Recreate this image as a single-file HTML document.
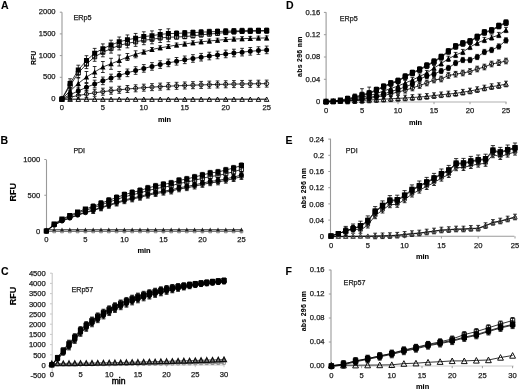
<!DOCTYPE html>
<html><head><meta charset="utf-8"><style>
html,body{margin:0;padding:0;background:#fff;width:520px;height:390px;overflow:hidden}
svg{display:block;filter:grayscale(1)}
text{font-family:"Liberation Sans",sans-serif}
</style></head><body>
<svg width="520" height="390" viewBox="0 0 520 390">
<rect width="520" height="390" fill="#fff"/>
<line x1="62" y1="12.2" x2="62" y2="99" stroke="#9a9a9a" stroke-width="1.1"/>
<line x1="59.8" y1="99" x2="62" y2="99" stroke="#9a9a9a" stroke-width="1"/>
<text x="55.6" y="100.9" font-size="7.6" text-anchor="end" fill="#1a1a1a" stroke="#1a1a1a" stroke-width="0.25">0</text>
<line x1="59.8" y1="77.3" x2="62" y2="77.3" stroke="#9a9a9a" stroke-width="1"/>
<text x="55.6" y="79.2" font-size="7.6" text-anchor="end" fill="#1a1a1a" stroke="#1a1a1a" stroke-width="0.25">500</text>
<line x1="59.8" y1="55.6" x2="62" y2="55.6" stroke="#9a9a9a" stroke-width="1"/>
<text x="55.6" y="57.5" font-size="7.6" text-anchor="end" fill="#1a1a1a" stroke="#1a1a1a" stroke-width="0.25">1000</text>
<line x1="59.8" y1="33.9" x2="62" y2="33.9" stroke="#9a9a9a" stroke-width="1"/>
<text x="55.6" y="35.8" font-size="7.6" text-anchor="end" fill="#1a1a1a" stroke="#1a1a1a" stroke-width="0.25">1500</text>
<line x1="59.8" y1="12.2" x2="62" y2="12.2" stroke="#9a9a9a" stroke-width="1"/>
<text x="55.6" y="14.1" font-size="7.6" text-anchor="end" fill="#1a1a1a" stroke="#1a1a1a" stroke-width="0.25">2000</text>
<line x1="62" y1="99" x2="266.7" y2="99" stroke="#9a9a9a" stroke-width="1.1"/>
<line x1="61.9" y1="99" x2="61.9" y2="101.2" stroke="#9a9a9a" stroke-width="1"/>
<text x="61.9" y="110.1" font-size="7.6" text-anchor="middle" fill="#1a1a1a" stroke="#1a1a1a" stroke-width="0.25">0</text>
<line x1="102.85" y1="99" x2="102.85" y2="101.2" stroke="#9a9a9a" stroke-width="1"/>
<text x="102.85" y="110.1" font-size="7.6" text-anchor="middle" fill="#1a1a1a" stroke="#1a1a1a" stroke-width="0.25">5</text>
<line x1="143.8" y1="99" x2="143.8" y2="101.2" stroke="#9a9a9a" stroke-width="1"/>
<text x="143.8" y="110.1" font-size="7.6" text-anchor="middle" fill="#1a1a1a" stroke="#1a1a1a" stroke-width="0.25">10</text>
<line x1="184.75" y1="99" x2="184.75" y2="101.2" stroke="#9a9a9a" stroke-width="1"/>
<text x="184.75" y="110.1" font-size="7.6" text-anchor="middle" fill="#1a1a1a" stroke="#1a1a1a" stroke-width="0.25">15</text>
<line x1="225.7" y1="99" x2="225.7" y2="101.2" stroke="#9a9a9a" stroke-width="1"/>
<text x="225.7" y="110.1" font-size="7.6" text-anchor="middle" fill="#1a1a1a" stroke="#1a1a1a" stroke-width="0.25">20</text>
<line x1="266.65" y1="99" x2="266.65" y2="101.2" stroke="#9a9a9a" stroke-width="1"/>
<text x="266.65" y="110.1" font-size="7.6" text-anchor="middle" fill="#1a1a1a" stroke="#1a1a1a" stroke-width="0.25">25</text>
<text x="1" y="9.3" font-size="10.5" font-weight="bold" text-anchor="start" fill="#000" stroke="#000" stroke-width="0.1">A</text>
<text x="35.7" y="57.8" font-size="6.9" font-weight="bold" text-anchor="middle" fill="#000" transform="rotate(-90 35.7 57.8)" stroke="#000" stroke-width="0.1">RFU</text>
<text x="164.5" y="122.4" font-size="7.4" font-weight="bold" text-anchor="middle" fill="#000" stroke="#000" stroke-width="0.1">min</text>
<text x="73.4" y="20.2" font-size="7.3" text-anchor="start" fill="#1a1a1a" stroke="#1a1a1a" stroke-width="0.25">ERp5</text>
<polyline points="61.9,99 70.09,97.17 78.28,95.54 86.47,94.1 94.66,92.82 102.85,91.69 111.04,90.69 119.23,89.79 127.42,89 135.61,88.3 143.8,87.68 151.99,87.13 160.18,86.64 168.37,86.2 176.56,85.82 184.75,85.48 192.94,85.18 201.13,84.91 209.32,84.67 217.51,84.46 225.7,84.27 233.89,84.1 242.08,83.96 250.27,83.83 258.46,83.71 266.65,83.61" fill="none" stroke="#000" stroke-width="0.8"/>
<polyline points="61.9,99.3 70.09,99.3 78.28,99.3 86.47,99.3 94.66,99.3 102.85,99.3 111.04,99.3 119.23,99.3 127.42,99.3 135.61,99.3 143.8,99.3 151.99,99.3 160.18,99.3 168.37,99.3 176.56,99.3 184.75,99.3 192.94,99.3 201.13,99.3 209.32,99.3 217.51,99.3 225.7,99.3 233.89,99.3 242.08,99.3 250.27,99.3 258.46,99.3 266.65,99.3" fill="none" stroke="#000" stroke-width="0.8"/>
<polyline points="61.9,99 70.09,94.81 78.28,90.92 86.47,87.31 94.66,83.97 102.85,80.86 111.04,77.98 119.23,75.31 127.42,72.83 135.61,70.53 143.8,68.4 151.99,66.42 160.18,64.58 168.37,62.88 176.56,61.3 184.75,59.83 192.94,58.47 201.13,57.21 209.32,56.04 217.51,54.95 225.7,53.94 233.89,53.01 242.08,52.14 250.27,51.33 258.46,50.59 266.65,49.89" fill="none" stroke="#000" stroke-width="0.8"/>
<polyline points="61.9,99 70.09,91 78.28,83.5 86.47,77 94.66,72 102.85,67 111.04,63.8 119.23,60.5 127.42,57 135.61,54.3 143.8,52 151.99,49.5 160.18,47.8 168.37,46.5 176.56,45 184.75,44 192.94,42.8 201.13,41.8 209.32,41 217.51,40.2 225.7,39.6 233.89,39.1 242.08,38.7 250.27,38.4 258.46,38.1 266.65,37.9" fill="none" stroke="#000" stroke-width="0.8"/>
<polyline points="61.9,99 70.09,85.6 78.28,73 86.47,64.1 94.66,56.8 102.85,52.3 111.04,48.6 119.23,45.4 127.42,43.35 135.61,41.85 143.8,40.2 151.99,39.3 160.18,38 168.37,37.2 176.56,37 184.75,36.6 192.94,35.75 201.13,34.9 209.32,34.05 217.51,33.3 225.7,32.55 233.89,31.9 242.08,31.3 250.27,31.2 258.46,31.1 266.65,31" fill="none" stroke="#000" stroke-width="0.8"/>
<polyline points="61.9,99 70.09,83.6 78.28,70 86.47,60.5 94.66,53.2 102.85,48.7 111.04,45 119.23,41.8 127.42,39.75 135.61,38.25 143.8,36.6 151.99,35.7 160.18,34.4 168.37,33.6 176.56,33.4 184.75,33 192.94,32.6 201.13,32.2 209.32,31.8 217.51,31.5 225.7,31.2 233.89,31 242.08,30.8 250.27,30.7 258.46,30.6 266.65,30.5" fill="none" stroke="#000" stroke-width="0.8"/>
<path d="M59.85 99a2.05 2.05 0 1 0 4.1 0a2.05 2.05 0 1 0 -4.1 0M68.04 97.17a2.05 2.05 0 1 0 4.1 0a2.05 2.05 0 1 0 -4.1 0M76.23 95.54a2.05 2.05 0 1 0 4.1 0a2.05 2.05 0 1 0 -4.1 0M84.42 94.1a2.05 2.05 0 1 0 4.1 0a2.05 2.05 0 1 0 -4.1 0M92.61 92.82a2.05 2.05 0 1 0 4.1 0a2.05 2.05 0 1 0 -4.1 0M100.8 91.69a2.05 2.05 0 1 0 4.1 0a2.05 2.05 0 1 0 -4.1 0M108.99 90.69a2.05 2.05 0 1 0 4.1 0a2.05 2.05 0 1 0 -4.1 0M117.18 89.79a2.05 2.05 0 1 0 4.1 0a2.05 2.05 0 1 0 -4.1 0M125.37 89a2.05 2.05 0 1 0 4.1 0a2.05 2.05 0 1 0 -4.1 0M133.56 88.3a2.05 2.05 0 1 0 4.1 0a2.05 2.05 0 1 0 -4.1 0M141.75 87.68a2.05 2.05 0 1 0 4.1 0a2.05 2.05 0 1 0 -4.1 0M149.94 87.13a2.05 2.05 0 1 0 4.1 0a2.05 2.05 0 1 0 -4.1 0M158.13 86.64a2.05 2.05 0 1 0 4.1 0a2.05 2.05 0 1 0 -4.1 0M166.32 86.2a2.05 2.05 0 1 0 4.1 0a2.05 2.05 0 1 0 -4.1 0M174.51 85.82a2.05 2.05 0 1 0 4.1 0a2.05 2.05 0 1 0 -4.1 0M182.7 85.48a2.05 2.05 0 1 0 4.1 0a2.05 2.05 0 1 0 -4.1 0M190.89 85.18a2.05 2.05 0 1 0 4.1 0a2.05 2.05 0 1 0 -4.1 0M199.08 84.91a2.05 2.05 0 1 0 4.1 0a2.05 2.05 0 1 0 -4.1 0M207.27 84.67a2.05 2.05 0 1 0 4.1 0a2.05 2.05 0 1 0 -4.1 0M215.46 84.46a2.05 2.05 0 1 0 4.1 0a2.05 2.05 0 1 0 -4.1 0M223.65 84.27a2.05 2.05 0 1 0 4.1 0a2.05 2.05 0 1 0 -4.1 0M231.84 84.1a2.05 2.05 0 1 0 4.1 0a2.05 2.05 0 1 0 -4.1 0M240.03 83.96a2.05 2.05 0 1 0 4.1 0a2.05 2.05 0 1 0 -4.1 0M248.22 83.83a2.05 2.05 0 1 0 4.1 0a2.05 2.05 0 1 0 -4.1 0M256.41 83.71a2.05 2.05 0 1 0 4.1 0a2.05 2.05 0 1 0 -4.1 0M264.6 83.61a2.05 2.05 0 1 0 4.1 0a2.05 2.05 0 1 0 -4.1 0" fill="none" stroke="#000" stroke-width="0.9"/>
<path d="M70.09 93.67V100.67M68.19 93.67h3.8M68.19 100.67h3.8M78.28 92.04V99.04M76.38 92.04h3.8M76.38 99.04h3.8M86.47 90.6V97.6M84.57 90.6h3.8M84.57 97.6h3.8M94.66 89.32V96.32M92.76 89.32h3.8M92.76 96.32h3.8M102.85 88.19V95.19M100.95 88.19h3.8M100.95 95.19h3.8M111.04 87.19V94.19M109.14 87.19h3.8M109.14 94.19h3.8M119.23 86.29V93.29M117.33 86.29h3.8M117.33 93.29h3.8M127.42 85.5V92.5M125.52 85.5h3.8M125.52 92.5h3.8M135.61 84.8V91.8M133.71 84.8h3.8M133.71 91.8h3.8M143.8 84.18V91.18M141.9 84.18h3.8M141.9 91.18h3.8M151.99 83.63V90.63M150.09 83.63h3.8M150.09 90.63h3.8M160.18 83.14V90.14M158.28 83.14h3.8M158.28 90.14h3.8M168.37 82.7V89.7M166.47 82.7h3.8M166.47 89.7h3.8M176.56 82.32V89.32M174.66 82.32h3.8M174.66 89.32h3.8M184.75 81.98V88.98M182.85 81.98h3.8M182.85 88.98h3.8M192.94 81.68V88.68M191.04 81.68h3.8M191.04 88.68h3.8M201.13 81.41V88.41M199.23 81.41h3.8M199.23 88.41h3.8M209.32 81.17V88.17M207.42 81.17h3.8M207.42 88.17h3.8M217.51 80.96V87.96M215.61 80.96h3.8M215.61 87.96h3.8M225.7 80.77V87.77M223.8 80.77h3.8M223.8 87.77h3.8M233.89 80.6V87.6M231.99 80.6h3.8M231.99 87.6h3.8M242.08 80.46V87.46M240.18 80.46h3.8M240.18 87.46h3.8M250.27 80.33V87.33M248.37 80.33h3.8M248.37 87.33h3.8M258.46 80.21V87.21M256.56 80.21h3.8M256.56 87.21h3.8M266.65 80.11V87.11M264.75 80.11h3.8M264.75 87.11h3.8" fill="none" stroke="#000" stroke-width="0.8"/>
<path d="M61.9 97L64.2 101.4H59.6zM70.09 97L72.39 101.4H67.79zM78.28 97L80.58 101.4H75.98zM86.47 97L88.77 101.4H84.17zM94.66 97L96.96 101.4H92.36zM102.85 97L105.15 101.4H100.55zM111.04 97L113.34 101.4H108.74zM119.23 97L121.53 101.4H116.93zM127.42 97L129.72 101.4H125.12zM135.61 97L137.91 101.4H133.31zM143.8 97L146.1 101.4H141.5zM151.99 97L154.29 101.4H149.69zM160.18 97L162.48 101.4H157.88zM168.37 97L170.67 101.4H166.07zM176.56 97L178.86 101.4H174.26zM184.75 97L187.05 101.4H182.45zM192.94 97L195.24 101.4H190.64zM201.13 97L203.43 101.4H198.83zM209.32 97L211.62 101.4H207.02zM217.51 97L219.81 101.4H215.21zM225.7 97L228 101.4H223.4zM233.89 97L236.19 101.4H231.59zM242.08 97L244.38 101.4H239.78zM250.27 97L252.57 101.4H247.97zM258.46 97L260.76 101.4H256.16zM266.65 97L268.95 101.4H264.35z" fill="none" stroke="#000" stroke-width="0.9"/>
<path d="M70.09 91.01V98.61M68.19 91.01h3.8M68.19 98.61h3.8M78.28 87.12V94.72M76.38 87.12h3.8M76.38 94.72h3.8M86.47 83.51V91.11M84.57 83.51h3.8M84.57 91.11h3.8M94.66 80.17V87.77M92.76 80.17h3.8M92.76 87.77h3.8M102.85 77.06V84.66M100.95 77.06h3.8M100.95 84.66h3.8M111.04 74.18V81.78M109.14 74.18h3.8M109.14 81.78h3.8M119.23 71.51V79.11M117.33 71.51h3.8M117.33 79.11h3.8M127.42 69.03V76.63M125.52 69.03h3.8M125.52 76.63h3.8M135.61 66.73V74.33M133.71 66.73h3.8M133.71 74.33h3.8M143.8 64.6V72.2M141.9 64.6h3.8M141.9 72.2h3.8M151.99 62.62V70.22M150.09 62.62h3.8M150.09 70.22h3.8M160.18 60.78V68.38M158.28 60.78h3.8M158.28 68.38h3.8M168.37 59.08V66.68M166.47 59.08h3.8M166.47 66.68h3.8M176.56 57.5V65.1M174.66 57.5h3.8M174.66 65.1h3.8M184.75 56.03V63.63M182.85 56.03h3.8M182.85 63.63h3.8M192.94 54.67V62.27M191.04 54.67h3.8M191.04 62.27h3.8M201.13 53.41V61.01M199.23 53.41h3.8M199.23 61.01h3.8M209.32 52.24V59.84M207.42 52.24h3.8M207.42 59.84h3.8M217.51 51.15V58.75M215.61 51.15h3.8M215.61 58.75h3.8M225.7 50.14V57.74M223.8 50.14h3.8M223.8 57.74h3.8M233.89 49.21V56.81M231.99 49.21h3.8M231.99 56.81h3.8M242.08 48.34V55.94M240.18 48.34h3.8M240.18 55.94h3.8M250.27 47.53V55.13M248.37 47.53h3.8M248.37 55.13h3.8M258.46 46.79V54.39M256.56 46.79h3.8M256.56 54.39h3.8M266.65 46.09V53.69M264.75 46.09h3.8M264.75 53.69h3.8" fill="none" stroke="#000" stroke-width="0.8"/>
<path d="M59.4 99a2.5 2.5 0 1 0 5 0a2.5 2.5 0 1 0 -5 0M67.59 94.81a2.5 2.5 0 1 0 5 0a2.5 2.5 0 1 0 -5 0M75.78 90.92a2.5 2.5 0 1 0 5 0a2.5 2.5 0 1 0 -5 0M83.97 87.31a2.5 2.5 0 1 0 5 0a2.5 2.5 0 1 0 -5 0M92.16 83.97a2.5 2.5 0 1 0 5 0a2.5 2.5 0 1 0 -5 0M100.35 80.86a2.5 2.5 0 1 0 5 0a2.5 2.5 0 1 0 -5 0M108.54 77.98a2.5 2.5 0 1 0 5 0a2.5 2.5 0 1 0 -5 0M116.73 75.31a2.5 2.5 0 1 0 5 0a2.5 2.5 0 1 0 -5 0M124.92 72.83a2.5 2.5 0 1 0 5 0a2.5 2.5 0 1 0 -5 0M133.11 70.53a2.5 2.5 0 1 0 5 0a2.5 2.5 0 1 0 -5 0M141.3 68.4a2.5 2.5 0 1 0 5 0a2.5 2.5 0 1 0 -5 0M149.49 66.42a2.5 2.5 0 1 0 5 0a2.5 2.5 0 1 0 -5 0M157.68 64.58a2.5 2.5 0 1 0 5 0a2.5 2.5 0 1 0 -5 0M165.87 62.88a2.5 2.5 0 1 0 5 0a2.5 2.5 0 1 0 -5 0M174.06 61.3a2.5 2.5 0 1 0 5 0a2.5 2.5 0 1 0 -5 0M182.25 59.83a2.5 2.5 0 1 0 5 0a2.5 2.5 0 1 0 -5 0M190.44 58.47a2.5 2.5 0 1 0 5 0a2.5 2.5 0 1 0 -5 0M198.63 57.21a2.5 2.5 0 1 0 5 0a2.5 2.5 0 1 0 -5 0M206.82 56.04a2.5 2.5 0 1 0 5 0a2.5 2.5 0 1 0 -5 0M215.01 54.95a2.5 2.5 0 1 0 5 0a2.5 2.5 0 1 0 -5 0M223.2 53.94a2.5 2.5 0 1 0 5 0a2.5 2.5 0 1 0 -5 0M231.39 53.01a2.5 2.5 0 1 0 5 0a2.5 2.5 0 1 0 -5 0M239.58 52.14a2.5 2.5 0 1 0 5 0a2.5 2.5 0 1 0 -5 0M247.77 51.33a2.5 2.5 0 1 0 5 0a2.5 2.5 0 1 0 -5 0M255.96 50.59a2.5 2.5 0 1 0 5 0a2.5 2.5 0 1 0 -5 0M264.15 49.89a2.5 2.5 0 1 0 5 0a2.5 2.5 0 1 0 -5 0" fill="#000"/>
<path d="M70.09 85.5V96.5M68.19 85.5h3.8M68.19 96.5h3.8M78.28 78V89M76.38 78h3.8M76.38 89h3.8M86.47 71.5V82.5M84.57 71.5h3.8M84.57 82.5h3.8M94.66 66.5V77.5M92.76 66.5h3.8M92.76 77.5h3.8M102.85 61.5V72.5M100.95 61.5h3.8M100.95 72.5h3.8M111.04 58.3V69.3M109.14 58.3h3.8M109.14 69.3h3.8M119.23 55V66M117.33 55h3.8M117.33 66h3.8M127.42 53.5V60.5M125.52 53.5h3.8M125.52 60.5h3.8M135.61 50.8V57.8M133.71 50.8h3.8M133.71 57.8h3.8M143.8 50V54M141.9 50h3.8M141.9 54h3.8M151.99 47.5V51.5M150.09 47.5h3.8M150.09 51.5h3.8M160.18 45.8V49.8M158.28 45.8h3.8M158.28 49.8h3.8M168.37 44.5V48.5M166.47 44.5h3.8M166.47 48.5h3.8M176.56 43V47M174.66 43h3.8M174.66 47h3.8M184.75 42V46M182.85 42h3.8M182.85 46h3.8M192.94 40.8V44.8M191.04 40.8h3.8M191.04 44.8h3.8M201.13 39.8V43.8M199.23 39.8h3.8M199.23 43.8h3.8M209.32 39V43M207.42 39h3.8M207.42 43h3.8M217.51 38.2V42.2M215.61 38.2h3.8M215.61 42.2h3.8M225.7 37.6V41.6M223.8 37.6h3.8M223.8 41.6h3.8M233.89 37.1V41.1M231.99 37.1h3.8M231.99 41.1h3.8M242.08 36.7V40.7M240.18 36.7h3.8M240.18 40.7h3.8M250.27 36.4V40.4M248.37 36.4h3.8M248.37 40.4h3.8M258.46 36.1V40.1M256.56 36.1h3.8M256.56 40.1h3.8M266.65 35.9V39.9M264.75 35.9h3.8M264.75 39.9h3.8" fill="none" stroke="#000" stroke-width="0.8"/>
<path d="M61.9 96.2L64.6 101.5H59.2zM70.09 88.2L72.79 93.5H67.39zM78.28 80.7L80.98 86H75.58zM86.47 74.2L89.17 79.5H83.77zM94.66 69.2L97.36 74.5H91.96zM102.85 64.2L105.55 69.5H100.15zM111.04 61L113.74 66.3H108.34zM119.23 57.7L121.93 63H116.53zM127.42 54.2L130.12 59.5H124.72zM135.61 51.5L138.31 56.8H132.91zM143.8 49.2L146.5 54.5H141.1zM151.99 46.7L154.69 52H149.29zM160.18 45L162.88 50.3H157.48zM168.37 43.7L171.07 49H165.67zM176.56 42.2L179.26 47.5H173.86zM184.75 41.2L187.45 46.5H182.05zM192.94 40L195.64 45.3H190.24zM201.13 39L203.83 44.3H198.43zM209.32 38.2L212.02 43.5H206.62zM217.51 37.4L220.21 42.7H214.81zM225.7 36.8L228.4 42.1H223zM233.89 36.3L236.59 41.6H231.19zM242.08 35.9L244.78 41.2H239.38zM250.27 35.6L252.97 40.9H247.57zM258.46 35.3L261.16 40.6H255.76zM266.65 35.1L269.35 40.4H263.95z" fill="#000"/>
<path d="M59.85 96.95h4.1v4.1h-4.1zM68.04 83.55h4.1v4.1h-4.1zM76.23 70.95h4.1v4.1h-4.1zM84.42 62.05h4.1v4.1h-4.1zM92.61 54.75h4.1v4.1h-4.1zM100.8 50.25h4.1v4.1h-4.1zM108.99 46.55h4.1v4.1h-4.1zM117.18 43.35h4.1v4.1h-4.1zM125.37 41.3h4.1v4.1h-4.1zM133.56 39.8h4.1v4.1h-4.1zM141.75 38.15h4.1v4.1h-4.1zM149.94 37.25h4.1v4.1h-4.1zM158.13 35.95h4.1v4.1h-4.1zM166.32 35.15h4.1v4.1h-4.1zM174.51 34.95h4.1v4.1h-4.1zM182.7 34.55h4.1v4.1h-4.1zM190.89 33.7h4.1v4.1h-4.1zM199.08 32.85h4.1v4.1h-4.1zM207.27 32h4.1v4.1h-4.1zM215.46 31.25h4.1v4.1h-4.1zM223.65 30.5h4.1v4.1h-4.1zM231.84 29.85h4.1v4.1h-4.1zM240.03 29.25h4.1v4.1h-4.1zM248.22 29.15h4.1v4.1h-4.1zM256.41 29.05h4.1v4.1h-4.1zM264.6 28.95h4.1v4.1h-4.1z" fill="none" stroke="#000" stroke-width="0.9"/>
<path d="M70.09 81.1V90.1M68.19 81.1h3.8M68.19 90.1h3.8M78.28 68.5V77.5M76.38 68.5h3.8M76.38 77.5h3.8M86.47 59.6V68.6M84.57 59.6h3.8M84.57 68.6h3.8M94.66 52.3V61.3M92.76 52.3h3.8M92.76 61.3h3.8M102.85 47.8V56.8M100.95 47.8h3.8M100.95 56.8h3.8M111.04 44.1V53.1M109.14 44.1h3.8M109.14 53.1h3.8M119.23 40.9V49.9M117.33 40.9h3.8M117.33 49.9h3.8M127.42 38.85V47.85M125.52 38.85h3.8M125.52 47.85h3.8M135.61 37.35V46.35M133.71 37.35h3.8M133.71 46.35h3.8M143.8 35.7V44.7M141.9 35.7h3.8M141.9 44.7h3.8M151.99 34.8V43.8M150.09 34.8h3.8M150.09 43.8h3.8M160.18 33.5V42.5M158.28 33.5h3.8M158.28 42.5h3.8M168.37 32.7V41.7M166.47 32.7h3.8M166.47 41.7h3.8M176.56 35V39M174.66 35h3.8M174.66 39h3.8M184.75 34.6V38.6M182.85 34.6h3.8M182.85 38.6h3.8M192.94 33.75V37.75M191.04 33.75h3.8M191.04 37.75h3.8M201.13 32.9V36.9M199.23 32.9h3.8M199.23 36.9h3.8M209.32 32.05V36.05M207.42 32.05h3.8M207.42 36.05h3.8M217.51 31.3V35.3M215.61 31.3h3.8M215.61 35.3h3.8M225.7 30.55V34.55M223.8 30.55h3.8M223.8 34.55h3.8M233.89 29.9V33.9M231.99 29.9h3.8M231.99 33.9h3.8M242.08 29.3V33.3M240.18 29.3h3.8M240.18 33.3h3.8M250.27 29.2V33.2M248.37 29.2h3.8M248.37 33.2h3.8M258.46 29.1V33.1M256.56 29.1h3.8M256.56 33.1h3.8M266.65 29V33M264.75 29h3.8M264.75 33h3.8" fill="none" stroke="#000" stroke-width="0.8"/>
<path d="M70.09 78.8V88.4M68.19 78.8h3.8M68.19 88.4h3.8M78.28 65.2V74.8M76.38 65.2h3.8M76.38 74.8h3.8M86.47 55.7V65.3M84.57 55.7h3.8M84.57 65.3h3.8M94.66 48.4V58M92.76 48.4h3.8M92.76 58h3.8M102.85 43.9V53.5M100.95 43.9h3.8M100.95 53.5h3.8M111.04 40.2V49.8M109.14 40.2h3.8M109.14 49.8h3.8M119.23 37V46.6M117.33 37h3.8M117.33 46.6h3.8M127.42 34.95V44.55M125.52 34.95h3.8M125.52 44.55h3.8M135.61 33.45V43.05M133.71 33.45h3.8M133.71 43.05h3.8M143.8 31.8V41.4M141.9 31.8h3.8M141.9 41.4h3.8M151.99 30.9V40.5M150.09 30.9h3.8M150.09 40.5h3.8M160.18 29.6V39.2M158.28 29.6h3.8M158.28 39.2h3.8M168.37 28.8V38.4M166.47 28.8h3.8M166.47 38.4h3.8M176.56 30.9V35.9M174.66 30.9h3.8M174.66 35.9h3.8M184.75 30.5V35.5M182.85 30.5h3.8M182.85 35.5h3.8M192.94 30.1V35.1M191.04 30.1h3.8M191.04 35.1h3.8M201.13 29.7V34.7M199.23 29.7h3.8M199.23 34.7h3.8M209.32 29.3V34.3M207.42 29.3h3.8M207.42 34.3h3.8M217.51 29V34M215.61 29h3.8M215.61 34h3.8M225.7 28.7V33.7M223.8 28.7h3.8M223.8 33.7h3.8M233.89 28.5V33.5M231.99 28.5h3.8M231.99 33.5h3.8M242.08 28.3V33.3M240.18 28.3h3.8M240.18 33.3h3.8M250.27 28.2V33.2M248.37 28.2h3.8M248.37 33.2h3.8M258.46 28.1V33.1M256.56 28.1h3.8M256.56 33.1h3.8M266.65 28V33M264.75 28h3.8M264.75 33h3.8" fill="none" stroke="#000" stroke-width="0.8"/>
<path d="M59.4 96.5h5v5h-5zM67.59 81.1h5v5h-5zM75.78 67.5h5v5h-5zM83.97 58h5v5h-5zM92.16 50.7h5v5h-5zM100.35 46.2h5v5h-5zM108.54 42.5h5v5h-5zM116.73 39.3h5v5h-5zM124.92 37.25h5v5h-5zM133.11 35.75h5v5h-5zM141.3 34.1h5v5h-5zM149.49 33.2h5v5h-5zM157.68 31.9h5v5h-5zM165.87 31.1h5v5h-5zM174.06 30.9h5v5h-5zM182.25 30.5h5v5h-5zM190.44 30.1h5v5h-5zM198.63 29.7h5v5h-5zM206.82 29.3h5v5h-5zM215.01 29h5v5h-5zM223.2 28.7h5v5h-5zM231.39 28.5h5v5h-5zM239.58 28.3h5v5h-5zM247.77 28.2h5v5h-5zM255.96 28.1h5v5h-5zM264.15 28h5v5h-5z" fill="#000"/>
<line x1="46.5" y1="160" x2="46.5" y2="231" stroke="#9a9a9a" stroke-width="1.1"/>
<line x1="44.3" y1="231" x2="46.5" y2="231" stroke="#9a9a9a" stroke-width="1"/>
<text x="40.2" y="233.7" font-size="7.6" text-anchor="end" fill="#1a1a1a" stroke="#1a1a1a" stroke-width="0.25">0</text>
<line x1="44.3" y1="195.25" x2="46.5" y2="195.25" stroke="#9a9a9a" stroke-width="1"/>
<text x="40.2" y="197.95" font-size="7.6" text-anchor="end" fill="#1a1a1a" stroke="#1a1a1a" stroke-width="0.25">500</text>
<line x1="44.3" y1="159.5" x2="46.5" y2="159.5" stroke="#9a9a9a" stroke-width="1"/>
<text x="40.2" y="162.2" font-size="7.6" text-anchor="end" fill="#1a1a1a" stroke="#1a1a1a" stroke-width="0.25">1000</text>
<line x1="46.5" y1="231" x2="241.6" y2="231" stroke="#9a9a9a" stroke-width="1.1"/>
<line x1="46.4" y1="231" x2="46.4" y2="233.2" stroke="#9a9a9a" stroke-width="1"/>
<text x="46.4" y="242.1" font-size="7.6" text-anchor="middle" fill="#1a1a1a" stroke="#1a1a1a" stroke-width="0.25">0</text>
<line x1="85.4" y1="231" x2="85.4" y2="233.2" stroke="#9a9a9a" stroke-width="1"/>
<text x="85.4" y="242.1" font-size="7.6" text-anchor="middle" fill="#1a1a1a" stroke="#1a1a1a" stroke-width="0.25">5</text>
<line x1="124.4" y1="231" x2="124.4" y2="233.2" stroke="#9a9a9a" stroke-width="1"/>
<text x="124.4" y="242.1" font-size="7.6" text-anchor="middle" fill="#1a1a1a" stroke="#1a1a1a" stroke-width="0.25">10</text>
<line x1="163.4" y1="231" x2="163.4" y2="233.2" stroke="#9a9a9a" stroke-width="1"/>
<text x="163.4" y="242.1" font-size="7.6" text-anchor="middle" fill="#1a1a1a" stroke="#1a1a1a" stroke-width="0.25">15</text>
<line x1="202.4" y1="231" x2="202.4" y2="233.2" stroke="#9a9a9a" stroke-width="1"/>
<text x="202.4" y="242.1" font-size="7.6" text-anchor="middle" fill="#1a1a1a" stroke="#1a1a1a" stroke-width="0.25">20</text>
<line x1="241.4" y1="231" x2="241.4" y2="233.2" stroke="#9a9a9a" stroke-width="1"/>
<text x="241.4" y="242.1" font-size="7.6" text-anchor="middle" fill="#1a1a1a" stroke="#1a1a1a" stroke-width="0.25">25</text>
<text x="0.6" y="143.8" font-size="10.5" font-weight="bold" text-anchor="start" fill="#000" stroke="#000" stroke-width="0.1">B</text>
<text x="16.4" y="192.3" font-size="9" font-weight="bold" text-anchor="middle" fill="#000" transform="rotate(-90 16.4 192.3)" stroke="#000" stroke-width="0.1">RFU</text>
<text x="144" y="253" font-size="7.4" font-weight="bold" text-anchor="middle" fill="#000" stroke="#000" stroke-width="0.1">min</text>
<text x="73.4" y="152.7" font-size="7" text-anchor="start" fill="#1a1a1a" stroke="#1a1a1a" stroke-width="0.25">PDI</text>
<polyline points="46.4,231.4 54.2,231.4 62,231.4 69.8,231.4 77.6,231.4 85.4,231.4 93.2,231.4 101,231.4 108.8,231.4 116.6,231.4 124.4,231.4 132.2,231.4 140,231.4 147.8,231.4 155.6,231.4 163.4,231.4 171.2,231.4 179,231.4 186.8,231.4 194.6,231.4 202.4,231.4 210.2,231.4 218,231.4 225.8,231.4 233.6,231.4 241.4,231.4" fill="none" stroke="#555" stroke-width="0.8"/>
<polyline points="46.4,229.6 54.2,229.6 62,229.6 69.8,229.6 77.6,229.6 85.4,229.6 93.2,229.6 101,229.6 108.8,229.6 116.6,229.6 124.4,229.6 132.2,229.6 140,229.6 147.8,229.6 155.6,229.6 163.4,229.6 171.2,229.6 179,229.6 186.8,229.6 194.6,229.6 202.4,229.6 210.2,229.6 218,229.6 225.8,229.6 233.6,229.6 241.4,229.6" fill="none" stroke="#222" stroke-width="0.8"/>
<polyline points="46.4,231 54.2,225.19 62,221.04 69.8,218.13 77.6,215.23 85.4,212.74 93.2,210.66 101,208.01 108.8,205.52 116.6,203.19 124.4,200.87 132.2,199.05 140,197.38 147.8,195.31 155.6,193.65 163.4,192.32 171.2,191.16 179,189 186.8,187.84 194.6,186.18 202.4,184.52 210.2,182.86 218,182.03 225.8,180.37 233.6,178.71 241.4,176.63" fill="none" stroke="#000" stroke-width="0.8"/>
<polyline points="46.4,231 54.2,225.01 62,220.74 69.8,217.75 77.6,214.75 85.4,212.19 93.2,210.05 101,207.32 108.8,204.75 116.6,202.36 124.4,199.96 132.2,198.08 140,196.37 147.8,194.24 155.6,192.53 163.4,191.16 171.2,189.96 179,187.74 186.8,186.54 194.6,184.83 202.4,183.12 210.2,181.41 218,180.56 225.8,178.84 233.6,177.13 241.4,175" fill="none" stroke="#000" stroke-width="0.8"/>
<polyline points="46.4,231 54.2,224.42 62,219.72 69.8,216.43 77.6,213.14 85.4,210.32 93.2,207.97 101,204.96 108.8,202.14 116.6,199.51 124.4,196.88 132.2,194.81 140,192.93 147.8,190.58 155.6,188.7 163.4,187.2 171.2,185.88 179,183.44 186.8,182.12 194.6,180.24 202.4,178.36 210.2,176.48 218,175.54 225.8,173.66 233.6,171.78 241.4,169.43" fill="none" stroke="#000" stroke-width="0.8"/>
<polyline points="46.4,231 54.2,224 62,219 69.8,215.5 77.6,212 85.4,209 93.2,206.5 101,203.3 108.8,200.3 116.6,197.5 124.4,194.7 132.2,192.5 140,190.5 147.8,188 155.6,186 163.4,184.4 171.2,183 179,180.4 186.8,179 194.6,177 202.4,175 210.2,173 218,172 225.8,170 233.6,168 241.4,165.5" fill="none" stroke="#000" stroke-width="0.8"/>
<path d="M45.05 230.05h2.7v2.7h-2.7zM52.85 230.05h2.7v2.7h-2.7zM60.65 230.05h2.7v2.7h-2.7zM68.45 230.05h2.7v2.7h-2.7zM76.25 230.05h2.7v2.7h-2.7zM84.05 230.05h2.7v2.7h-2.7zM91.85 230.05h2.7v2.7h-2.7zM99.65 230.05h2.7v2.7h-2.7zM107.45 230.05h2.7v2.7h-2.7zM115.25 230.05h2.7v2.7h-2.7zM123.05 230.05h2.7v2.7h-2.7zM130.85 230.05h2.7v2.7h-2.7zM138.65 230.05h2.7v2.7h-2.7zM146.45 230.05h2.7v2.7h-2.7zM154.25 230.05h2.7v2.7h-2.7zM162.05 230.05h2.7v2.7h-2.7zM169.85 230.05h2.7v2.7h-2.7zM177.65 230.05h2.7v2.7h-2.7zM185.45 230.05h2.7v2.7h-2.7zM193.25 230.05h2.7v2.7h-2.7zM201.05 230.05h2.7v2.7h-2.7zM208.85 230.05h2.7v2.7h-2.7zM216.65 230.05h2.7v2.7h-2.7zM224.45 230.05h2.7v2.7h-2.7zM232.25 230.05h2.7v2.7h-2.7zM240.05 230.05h2.7v2.7h-2.7z" fill="none" stroke="#777" stroke-width="0.9"/>
<path d="M46.4 227.6L48.3 231.3H44.5zM54.2 227.6L56.1 231.3H52.3zM62 227.6L63.9 231.3H60.1zM69.8 227.6L71.7 231.3H67.9zM77.6 227.6L79.5 231.3H75.7zM85.4 227.6L87.3 231.3H83.5zM93.2 227.6L95.1 231.3H91.3zM101 227.6L102.9 231.3H99.1zM108.8 227.6L110.7 231.3H106.9zM116.6 227.6L118.5 231.3H114.7zM124.4 227.6L126.3 231.3H122.5zM132.2 227.6L134.1 231.3H130.3zM140 227.6L141.9 231.3H138.1zM147.8 227.6L149.7 231.3H145.9zM155.6 227.6L157.5 231.3H153.7zM163.4 227.6L165.3 231.3H161.5zM171.2 227.6L173.1 231.3H169.3zM179 227.6L180.9 231.3H177.1zM186.8 227.6L188.7 231.3H184.9zM194.6 227.6L196.5 231.3H192.7zM202.4 227.6L204.3 231.3H200.5zM210.2 227.6L212.1 231.3H208.3zM218 227.6L219.9 231.3H216.1zM225.8 227.6L227.7 231.3H223.9zM233.6 227.6L235.5 231.3H231.7zM241.4 227.6L243.3 231.3H239.5z" fill="#222"/>
<path d="M44.35 231a2.05 2.05 0 1 0 4.1 0a2.05 2.05 0 1 0 -4.1 0M52.15 225.19a2.05 2.05 0 1 0 4.1 0a2.05 2.05 0 1 0 -4.1 0M59.95 221.04a2.05 2.05 0 1 0 4.1 0a2.05 2.05 0 1 0 -4.1 0M67.75 218.13a2.05 2.05 0 1 0 4.1 0a2.05 2.05 0 1 0 -4.1 0M75.55 215.23a2.05 2.05 0 1 0 4.1 0a2.05 2.05 0 1 0 -4.1 0M83.35 212.74a2.05 2.05 0 1 0 4.1 0a2.05 2.05 0 1 0 -4.1 0M91.15 210.66a2.05 2.05 0 1 0 4.1 0a2.05 2.05 0 1 0 -4.1 0M98.95 208.01a2.05 2.05 0 1 0 4.1 0a2.05 2.05 0 1 0 -4.1 0M106.75 205.52a2.05 2.05 0 1 0 4.1 0a2.05 2.05 0 1 0 -4.1 0M114.55 203.19a2.05 2.05 0 1 0 4.1 0a2.05 2.05 0 1 0 -4.1 0M122.35 200.87a2.05 2.05 0 1 0 4.1 0a2.05 2.05 0 1 0 -4.1 0M130.15 199.05a2.05 2.05 0 1 0 4.1 0a2.05 2.05 0 1 0 -4.1 0M137.95 197.38a2.05 2.05 0 1 0 4.1 0a2.05 2.05 0 1 0 -4.1 0M145.75 195.31a2.05 2.05 0 1 0 4.1 0a2.05 2.05 0 1 0 -4.1 0M153.55 193.65a2.05 2.05 0 1 0 4.1 0a2.05 2.05 0 1 0 -4.1 0M161.35 192.32a2.05 2.05 0 1 0 4.1 0a2.05 2.05 0 1 0 -4.1 0M169.15 191.16a2.05 2.05 0 1 0 4.1 0a2.05 2.05 0 1 0 -4.1 0M176.95 189a2.05 2.05 0 1 0 4.1 0a2.05 2.05 0 1 0 -4.1 0M184.75 187.84a2.05 2.05 0 1 0 4.1 0a2.05 2.05 0 1 0 -4.1 0M192.55 186.18a2.05 2.05 0 1 0 4.1 0a2.05 2.05 0 1 0 -4.1 0M200.35 184.52a2.05 2.05 0 1 0 4.1 0a2.05 2.05 0 1 0 -4.1 0M208.15 182.86a2.05 2.05 0 1 0 4.1 0a2.05 2.05 0 1 0 -4.1 0M215.95 182.03a2.05 2.05 0 1 0 4.1 0a2.05 2.05 0 1 0 -4.1 0M223.75 180.37a2.05 2.05 0 1 0 4.1 0a2.05 2.05 0 1 0 -4.1 0M231.55 178.71a2.05 2.05 0 1 0 4.1 0a2.05 2.05 0 1 0 -4.1 0M239.35 176.63a2.05 2.05 0 1 0 4.1 0a2.05 2.05 0 1 0 -4.1 0" fill="none" stroke="#333" stroke-width="0.9"/>
<path d="M54.2 223.99V226.39M52.3 223.99h3.8M52.3 226.39h3.8M62 219.84V222.24M60.1 219.84h3.8M60.1 222.24h3.8M69.8 216.94V219.33M67.9 216.94h3.8M67.9 219.33h3.8M77.6 214.03V216.43M75.7 214.03h3.8M75.7 216.43h3.8M85.4 211.54V213.94M83.5 211.54h3.8M83.5 213.94h3.8M93.2 207.86V213.47M91.3 207.86h3.8M91.3 213.47h3.8M101 205.21V210.81M99.1 205.21h3.8M99.1 210.81h3.8M108.8 202.72V208.32M106.9 202.72h3.8M106.9 208.32h3.8M116.6 200.39V206M114.7 200.39h3.8M114.7 206h3.8M124.4 198.07V203.67M122.5 198.07h3.8M122.5 203.67h3.8M132.2 196.25V201.85M130.3 196.25h3.8M130.3 201.85h3.8M140 194.58V200.19M138.1 194.58h3.8M138.1 200.19h3.8M147.8 192.51V198.11M145.9 192.51h3.8M145.9 198.11h3.8M155.6 190.85V196.45M153.7 190.85h3.8M153.7 196.45h3.8M163.4 189.52V195.12M161.5 189.52h3.8M161.5 195.12h3.8M171.2 188.36V193.96M169.3 188.36h3.8M169.3 193.96h3.8M179 186.2V191.8M177.1 186.2h3.8M177.1 191.8h3.8M186.8 185.04V190.64M184.9 185.04h3.8M184.9 190.64h3.8M194.6 183.38V188.98M192.7 183.38h3.8M192.7 188.98h3.8M202.4 181.72V187.32M200.5 181.72h3.8M200.5 187.32h3.8M210.2 180.06V185.66M208.3 180.06h3.8M208.3 185.66h3.8M218 179.23V184.83M216.1 179.23h3.8M216.1 184.83h3.8M225.8 177.57V183.17M223.9 177.57h3.8M223.9 183.17h3.8M233.6 175.91V181.51M231.7 175.91h3.8M231.7 181.51h3.8M241.4 173.83V179.44M239.5 173.83h3.8M239.5 179.44h3.8" fill="none" stroke="#000" stroke-width="0.8"/>
<path d="M54.2 223.81V226.21M52.3 223.81h3.8M52.3 226.21h3.8M62 219.54V221.94M60.1 219.54h3.8M60.1 221.94h3.8M69.8 216.55V218.95M67.9 216.55h3.8M67.9 218.95h3.8M77.6 213.56V215.95M75.7 213.56h3.8M75.7 215.95h3.8M85.4 210.99V213.39M83.5 210.99h3.8M83.5 213.39h3.8M93.2 207.25V212.85M91.3 207.25h3.8M91.3 212.85h3.8M101 204.52V210.12M99.1 204.52h3.8M99.1 210.12h3.8M108.8 201.95V207.55M106.9 201.95h3.8M106.9 207.55h3.8M116.6 199.56V205.16M114.7 199.56h3.8M114.7 205.16h3.8M124.4 197.16V202.76M122.5 197.16h3.8M122.5 202.76h3.8M132.2 195.28V200.88M130.3 195.28h3.8M130.3 200.88h3.8M140 193.57V199.17M138.1 193.57h3.8M138.1 199.17h3.8M147.8 191.44V197.04M145.9 191.44h3.8M145.9 197.04h3.8M155.6 189.72V195.33M153.7 189.72h3.8M153.7 195.33h3.8M163.4 188.36V193.96M161.5 188.36h3.8M161.5 193.96h3.8M171.2 187.16V192.76M169.3 187.16h3.8M169.3 192.76h3.8M179 184.94V190.54M177.1 184.94h3.8M177.1 190.54h3.8M186.8 183.74V189.34M184.9 183.74h3.8M184.9 189.34h3.8M194.6 182.03V187.63M192.7 182.03h3.8M192.7 187.63h3.8M202.4 180.32V185.92M200.5 180.32h3.8M200.5 185.92h3.8M210.2 178.61V184.21M208.3 178.61h3.8M208.3 184.21h3.8M218 177.75V183.36M216.1 177.75h3.8M216.1 183.36h3.8M225.8 176.04V181.65M223.9 176.04h3.8M223.9 181.65h3.8M233.6 174.33V179.94M231.7 174.33h3.8M231.7 179.94h3.8M241.4 172.2V177.8M239.5 172.2h3.8M239.5 177.8h3.8" fill="none" stroke="#000" stroke-width="0.8"/>
<path d="M43.9 231a2.5 2.5 0 1 0 5 0a2.5 2.5 0 1 0 -5 0M51.7 225.01a2.5 2.5 0 1 0 5 0a2.5 2.5 0 1 0 -5 0M59.5 220.74a2.5 2.5 0 1 0 5 0a2.5 2.5 0 1 0 -5 0M67.3 217.75a2.5 2.5 0 1 0 5 0a2.5 2.5 0 1 0 -5 0M75.1 214.75a2.5 2.5 0 1 0 5 0a2.5 2.5 0 1 0 -5 0M82.9 212.19a2.5 2.5 0 1 0 5 0a2.5 2.5 0 1 0 -5 0M90.7 210.05a2.5 2.5 0 1 0 5 0a2.5 2.5 0 1 0 -5 0M98.5 207.32a2.5 2.5 0 1 0 5 0a2.5 2.5 0 1 0 -5 0M106.3 204.75a2.5 2.5 0 1 0 5 0a2.5 2.5 0 1 0 -5 0M114.1 202.36a2.5 2.5 0 1 0 5 0a2.5 2.5 0 1 0 -5 0M121.9 199.96a2.5 2.5 0 1 0 5 0a2.5 2.5 0 1 0 -5 0M129.7 198.08a2.5 2.5 0 1 0 5 0a2.5 2.5 0 1 0 -5 0M137.5 196.37a2.5 2.5 0 1 0 5 0a2.5 2.5 0 1 0 -5 0M145.3 194.24a2.5 2.5 0 1 0 5 0a2.5 2.5 0 1 0 -5 0M153.1 192.53a2.5 2.5 0 1 0 5 0a2.5 2.5 0 1 0 -5 0M160.9 191.16a2.5 2.5 0 1 0 5 0a2.5 2.5 0 1 0 -5 0M168.7 189.96a2.5 2.5 0 1 0 5 0a2.5 2.5 0 1 0 -5 0M176.5 187.74a2.5 2.5 0 1 0 5 0a2.5 2.5 0 1 0 -5 0M184.3 186.54a2.5 2.5 0 1 0 5 0a2.5 2.5 0 1 0 -5 0M192.1 184.83a2.5 2.5 0 1 0 5 0a2.5 2.5 0 1 0 -5 0M199.9 183.12a2.5 2.5 0 1 0 5 0a2.5 2.5 0 1 0 -5 0M207.7 181.41a2.5 2.5 0 1 0 5 0a2.5 2.5 0 1 0 -5 0M215.5 180.56a2.5 2.5 0 1 0 5 0a2.5 2.5 0 1 0 -5 0M223.3 178.84a2.5 2.5 0 1 0 5 0a2.5 2.5 0 1 0 -5 0M231.1 177.13a2.5 2.5 0 1 0 5 0a2.5 2.5 0 1 0 -5 0M238.9 175a2.5 2.5 0 1 0 5 0a2.5 2.5 0 1 0 -5 0" fill="#000"/>
<path d="M44.35 228.95h4.1v4.1h-4.1zM52.15 222.37h4.1v4.1h-4.1zM59.95 217.67h4.1v4.1h-4.1zM67.75 214.38h4.1v4.1h-4.1zM75.55 211.09h4.1v4.1h-4.1zM83.35 208.27h4.1v4.1h-4.1zM91.15 205.92h4.1v4.1h-4.1zM98.95 202.91h4.1v4.1h-4.1zM106.75 200.09h4.1v4.1h-4.1zM114.55 197.46h4.1v4.1h-4.1zM122.35 194.83h4.1v4.1h-4.1zM130.15 192.76h4.1v4.1h-4.1zM137.95 190.88h4.1v4.1h-4.1zM145.75 188.53h4.1v4.1h-4.1zM153.55 186.65h4.1v4.1h-4.1zM161.35 185.15h4.1v4.1h-4.1zM169.15 183.83h4.1v4.1h-4.1zM176.95 181.39h4.1v4.1h-4.1zM184.75 180.07h4.1v4.1h-4.1zM192.55 178.19h4.1v4.1h-4.1zM200.35 176.31h4.1v4.1h-4.1zM208.15 174.43h4.1v4.1h-4.1zM215.95 173.49h4.1v4.1h-4.1zM223.75 171.61h4.1v4.1h-4.1zM231.55 169.73h4.1v4.1h-4.1zM239.35 167.38h4.1v4.1h-4.1z" fill="none" stroke="#000" stroke-width="0.9"/>
<path d="M54.2 222.92V225.92M52.3 222.92h3.8M52.3 225.92h3.8M62 218.22V221.22M60.1 218.22h3.8M60.1 221.22h3.8M69.8 214.93V217.93M67.9 214.93h3.8M67.9 217.93h3.8M77.6 211.64V214.64M75.7 211.64h3.8M75.7 214.64h3.8M85.4 208.82V211.82M83.5 208.82h3.8M83.5 211.82h3.8M93.2 205.37V210.57M91.3 205.37h3.8M91.3 210.57h3.8M101 202.36V207.56M99.1 202.36h3.8M99.1 207.56h3.8M108.8 199.54V204.74M106.9 199.54h3.8M106.9 204.74h3.8M116.6 196.91V202.11M114.7 196.91h3.8M114.7 202.11h3.8M124.4 194.28V199.48M122.5 194.28h3.8M122.5 199.48h3.8M132.2 192.21V197.41M130.3 192.21h3.8M130.3 197.41h3.8M140 190.33V195.53M138.1 190.33h3.8M138.1 195.53h3.8M147.8 187.98V193.18M145.9 187.98h3.8M145.9 193.18h3.8M155.6 186.1V191.3M153.7 186.1h3.8M153.7 191.3h3.8M163.4 184.6V189.8M161.5 184.6h3.8M161.5 189.8h3.8M171.2 183.28V188.48M169.3 183.28h3.8M169.3 188.48h3.8M179 180.84V186.04M177.1 180.84h3.8M177.1 186.04h3.8M186.8 179.52V184.72M184.9 179.52h3.8M184.9 184.72h3.8M194.6 177.64V182.84M192.7 177.64h3.8M192.7 182.84h3.8M202.4 175.76V180.96M200.5 175.76h3.8M200.5 180.96h3.8M210.2 173.88V179.08M208.3 173.88h3.8M208.3 179.08h3.8M218 172.94V178.14M216.1 172.94h3.8M216.1 178.14h3.8M225.8 171.06V176.26M223.9 171.06h3.8M223.9 176.26h3.8M233.6 169.18V174.38M231.7 169.18h3.8M231.7 174.38h3.8M241.4 166.83V172.03M239.5 166.83h3.8M239.5 172.03h3.8" fill="none" stroke="#000" stroke-width="0.8"/>
<path d="M54.2 222.5V225.5M52.3 222.5h3.8M52.3 225.5h3.8M62 217.5V220.5M60.1 217.5h3.8M60.1 220.5h3.8M69.8 214V217M67.9 214h3.8M67.9 217h3.8M77.6 210.5V213.5M75.7 210.5h3.8M75.7 213.5h3.8M85.4 207.5V210.5M83.5 207.5h3.8M83.5 210.5h3.8M93.2 203.9V209.1M91.3 203.9h3.8M91.3 209.1h3.8M101 200.7V205.9M99.1 200.7h3.8M99.1 205.9h3.8M108.8 197.7V202.9M106.9 197.7h3.8M106.9 202.9h3.8M116.6 194.9V200.1M114.7 194.9h3.8M114.7 200.1h3.8M124.4 192.1V197.3M122.5 192.1h3.8M122.5 197.3h3.8M132.2 189.9V195.1M130.3 189.9h3.8M130.3 195.1h3.8M140 187.9V193.1M138.1 187.9h3.8M138.1 193.1h3.8M147.8 185.4V190.6M145.9 185.4h3.8M145.9 190.6h3.8M155.6 183.4V188.6M153.7 183.4h3.8M153.7 188.6h3.8M163.4 181.8V187M161.5 181.8h3.8M161.5 187h3.8M171.2 180.4V185.6M169.3 180.4h3.8M169.3 185.6h3.8M179 177.8V183M177.1 177.8h3.8M177.1 183h3.8M186.8 176.4V181.6M184.9 176.4h3.8M184.9 181.6h3.8M194.6 174.4V179.6M192.7 174.4h3.8M192.7 179.6h3.8M202.4 172.4V177.6M200.5 172.4h3.8M200.5 177.6h3.8M210.2 170.4V175.6M208.3 170.4h3.8M208.3 175.6h3.8M218 169.4V174.6M216.1 169.4h3.8M216.1 174.6h3.8M225.8 167.4V172.6M223.9 167.4h3.8M223.9 172.6h3.8M233.6 165.4V170.6M231.7 165.4h3.8M231.7 170.6h3.8M241.4 162.9V168.1M239.5 162.9h3.8M239.5 168.1h3.8" fill="none" stroke="#000" stroke-width="0.8"/>
<path d="M43.8 228.4h5.2v5.2h-5.2zM51.6 221.4h5.2v5.2h-5.2zM59.4 216.4h5.2v5.2h-5.2zM67.2 212.9h5.2v5.2h-5.2zM75 209.4h5.2v5.2h-5.2zM82.8 206.4h5.2v5.2h-5.2zM90.6 203.9h5.2v5.2h-5.2zM98.4 200.7h5.2v5.2h-5.2zM106.2 197.7h5.2v5.2h-5.2zM114 194.9h5.2v5.2h-5.2zM121.8 192.1h5.2v5.2h-5.2zM129.6 189.9h5.2v5.2h-5.2zM137.4 187.9h5.2v5.2h-5.2zM145.2 185.4h5.2v5.2h-5.2zM153 183.4h5.2v5.2h-5.2zM160.8 181.8h5.2v5.2h-5.2zM168.6 180.4h5.2v5.2h-5.2zM176.4 177.8h5.2v5.2h-5.2zM184.2 176.4h5.2v5.2h-5.2zM192 174.4h5.2v5.2h-5.2zM199.8 172.4h5.2v5.2h-5.2zM207.6 170.4h5.2v5.2h-5.2zM215.4 169.4h5.2v5.2h-5.2zM223.2 167.4h5.2v5.2h-5.2zM231 165.4h5.2v5.2h-5.2zM238.8 162.9h5.2v5.2h-5.2z" fill="#000"/>
<line x1="52.2" y1="273.1" x2="52.2" y2="375.2" stroke="#c8c8c8" stroke-width="1.1"/>
<line x1="50" y1="375.2" x2="52.2" y2="375.2" stroke="#c8c8c8" stroke-width="1"/>
<text x="45.8" y="377.9" font-size="7.6" text-anchor="end" fill="#1a1a1a" stroke="#1a1a1a" stroke-width="0.25">-500</text>
<line x1="50" y1="365" x2="52.2" y2="365" stroke="#c8c8c8" stroke-width="1"/>
<text x="45.8" y="367.7" font-size="7.6" text-anchor="end" fill="#1a1a1a" stroke="#1a1a1a" stroke-width="0.25">0</text>
<line x1="50" y1="354.8" x2="52.2" y2="354.8" stroke="#c8c8c8" stroke-width="1"/>
<text x="45.8" y="357.5" font-size="7.6" text-anchor="end" fill="#1a1a1a" stroke="#1a1a1a" stroke-width="0.25">500</text>
<line x1="50" y1="344.6" x2="52.2" y2="344.6" stroke="#c8c8c8" stroke-width="1"/>
<text x="45.8" y="347.3" font-size="7.6" text-anchor="end" fill="#1a1a1a" stroke="#1a1a1a" stroke-width="0.25">1000</text>
<line x1="50" y1="334.4" x2="52.2" y2="334.4" stroke="#c8c8c8" stroke-width="1"/>
<text x="45.8" y="337.1" font-size="7.6" text-anchor="end" fill="#1a1a1a" stroke="#1a1a1a" stroke-width="0.25">1500</text>
<line x1="50" y1="324.2" x2="52.2" y2="324.2" stroke="#c8c8c8" stroke-width="1"/>
<text x="45.8" y="326.9" font-size="7.6" text-anchor="end" fill="#1a1a1a" stroke="#1a1a1a" stroke-width="0.25">2000</text>
<line x1="50" y1="314" x2="52.2" y2="314" stroke="#c8c8c8" stroke-width="1"/>
<text x="45.8" y="316.7" font-size="7.6" text-anchor="end" fill="#1a1a1a" stroke="#1a1a1a" stroke-width="0.25">2500</text>
<line x1="50" y1="303.8" x2="52.2" y2="303.8" stroke="#c8c8c8" stroke-width="1"/>
<text x="45.8" y="306.5" font-size="7.6" text-anchor="end" fill="#1a1a1a" stroke="#1a1a1a" stroke-width="0.25">3000</text>
<line x1="50" y1="293.6" x2="52.2" y2="293.6" stroke="#c8c8c8" stroke-width="1"/>
<text x="45.8" y="296.3" font-size="7.6" text-anchor="end" fill="#1a1a1a" stroke="#1a1a1a" stroke-width="0.25">3500</text>
<line x1="50" y1="283.4" x2="52.2" y2="283.4" stroke="#c8c8c8" stroke-width="1"/>
<text x="45.8" y="286.1" font-size="7.6" text-anchor="end" fill="#1a1a1a" stroke="#1a1a1a" stroke-width="0.25">4000</text>
<line x1="50" y1="273.2" x2="52.2" y2="273.2" stroke="#c8c8c8" stroke-width="1"/>
<text x="45.8" y="275.9" font-size="7.6" text-anchor="end" fill="#1a1a1a" stroke="#1a1a1a" stroke-width="0.25">4500</text>
<line x1="52.2" y1="365" x2="224.2" y2="365" stroke="#c8c8c8" stroke-width="1.1"/>
<line x1="51.8" y1="365" x2="51.8" y2="367.2" stroke="#c8c8c8" stroke-width="1"/>
<text x="51.8" y="376.8" font-size="7.6" text-anchor="middle" fill="#1a1a1a" stroke="#1a1a1a" stroke-width="0.25">0</text>
<line x1="80.5" y1="365" x2="80.5" y2="367.2" stroke="#c8c8c8" stroke-width="1"/>
<text x="80.5" y="376.8" font-size="7.6" text-anchor="middle" fill="#1a1a1a" stroke="#1a1a1a" stroke-width="0.25">5</text>
<line x1="109.2" y1="365" x2="109.2" y2="367.2" stroke="#c8c8c8" stroke-width="1"/>
<text x="109.2" y="376.8" font-size="7.6" text-anchor="middle" fill="#1a1a1a" stroke="#1a1a1a" stroke-width="0.25">10</text>
<line x1="137.9" y1="365" x2="137.9" y2="367.2" stroke="#c8c8c8" stroke-width="1"/>
<text x="137.9" y="376.8" font-size="7.6" text-anchor="middle" fill="#1a1a1a" stroke="#1a1a1a" stroke-width="0.25">15</text>
<line x1="166.6" y1="365" x2="166.6" y2="367.2" stroke="#c8c8c8" stroke-width="1"/>
<text x="166.6" y="376.8" font-size="7.6" text-anchor="middle" fill="#1a1a1a" stroke="#1a1a1a" stroke-width="0.25">20</text>
<line x1="195.3" y1="365" x2="195.3" y2="367.2" stroke="#c8c8c8" stroke-width="1"/>
<text x="195.3" y="376.8" font-size="7.6" text-anchor="middle" fill="#1a1a1a" stroke="#1a1a1a" stroke-width="0.25">25</text>
<line x1="224" y1="365" x2="224" y2="367.2" stroke="#c8c8c8" stroke-width="1"/>
<text x="224" y="376.8" font-size="7.6" text-anchor="middle" fill="#1a1a1a" stroke="#1a1a1a" stroke-width="0.25">30</text>
<text x="1" y="274.6" font-size="10.5" font-weight="bold" text-anchor="start" fill="#000" stroke="#000" stroke-width="0.1">C</text>
<text x="16.4" y="296" font-size="9" font-weight="bold" text-anchor="middle" fill="#000" transform="rotate(-90 16.4 296)" stroke="#000" stroke-width="0.1">RFU</text>
<text x="118.6" y="384" font-size="8.6" text-anchor="middle" fill="#000" stroke="#000" stroke-width="0.45">min</text>
<text x="71.4" y="292.3" font-size="7.2" text-anchor="start" fill="#1a1a1a" stroke="#1a1a1a" stroke-width="0.25">ERp57</text>
<polyline points="51.8,364.6 57.54,364.59 63.28,364.57 69.02,364.55 74.76,364.52 80.5,364.49 86.24,364.46 91.98,364.42 97.72,364.38 103.46,364.34 109.2,364.29 114.94,364.24 120.68,364.2 126.42,364.14 132.16,364.09 137.9,364.03 143.64,363.98 149.38,363.92 155.12,363.86 160.86,363.79 166.6,363.73 172.34,363.66 178.08,363.6 183.82,363.53 189.56,363.46 195.3,363.38 201.04,363.31 206.78,363.23 212.52,363.16 218.26,363.08 224,363" fill="none" stroke="#333" stroke-width="0.8"/>
<polyline points="51.8,363.5 57.54,363.48 63.28,363.43 69.02,363.37 74.76,363.31 80.5,363.23 86.24,363.14 91.98,363.05 97.72,362.95 103.46,362.84 109.2,362.73 114.94,362.61 120.68,362.49 126.42,362.36 132.16,362.22 137.9,362.09 143.64,361.94 149.38,361.79 155.12,361.64 160.86,361.48 166.6,361.32 172.34,361.16 178.08,360.99 183.82,360.81 189.56,360.64 195.3,360.46 201.04,360.27 206.78,360.08 212.52,359.89 218.26,359.7 224,359.5" fill="none" stroke="#333" stroke-width="0.8"/>
<polyline points="51.8,364.8 57.54,359.2 63.28,353.3 69.02,346.7 74.76,340.2 80.5,333.1 86.24,328.1 91.98,323.56 97.72,319.45 103.46,315.72 109.2,312.34 114.94,309.27 120.68,306.49 126.42,303.97 132.16,301.69 137.9,299.62 143.64,297.64 149.38,295.84 155.12,294.19 160.86,292.59 166.6,291.13 172.34,289.77 178.08,288.53 183.82,287.39 189.56,286.33 195.3,285.35 201.04,284.55 206.78,283.81 212.52,283.13 218.26,282.5 224,281.93" fill="none" stroke="#000" stroke-width="0.8"/>
<polyline points="51.8,364.8 57.54,358.7 63.28,352.3 69.02,345.7 74.76,339.2 80.5,332.1 86.24,327.1 91.98,322.56 97.72,318.45 103.46,314.72 109.2,311.34 114.94,308.27 120.68,305.49 126.42,302.97 132.16,300.69 137.9,298.62 143.64,296.69 149.38,294.94 155.12,293.34 160.86,291.79 166.6,290.38 172.34,289.07 178.08,287.88 183.82,286.79 189.56,285.78 195.3,284.85 201.04,284.05 206.78,283.31 212.52,282.63 218.26,282 224,281.43" fill="none" stroke="#000" stroke-width="0.8"/>
<polyline points="51.8,364.8 57.54,357.45 63.28,349.8 69.02,343.2 74.76,336.7 80.5,329.6 86.24,324.6 91.98,320.06 97.72,315.95 103.46,312.22 109.2,308.84 114.94,305.77 120.68,302.99 126.42,300.47 132.16,298.19 137.9,296.12 143.64,294.32 149.38,292.69 155.12,291.22 160.86,289.79 166.6,288.5 172.34,287.32 178.08,286.26 183.82,285.29 189.56,284.4 195.3,283.6 201.04,282.8 206.78,282.06 212.52,281.38 218.26,280.75 224,280.18" fill="none" stroke="#000" stroke-width="0.8"/>
<polyline points="51.8,364.8 57.54,357.95 63.28,350.8 69.02,344.2 74.76,337.7 80.5,330.6 86.24,325.6 91.98,321.06 97.72,316.95 103.46,313.22 109.2,309.84 114.94,306.77 120.68,303.99 126.42,301.47 132.16,299.19 137.9,297.12 143.64,295.27 149.38,293.59 155.12,292.07 160.86,290.59 166.6,289.25 172.34,288.02 178.08,286.91 183.82,285.89 189.56,284.95 195.3,284.1 201.04,283.3 206.78,282.56 212.52,281.88 218.26,281.25 224,280.68" fill="none" stroke="#000" stroke-width="0.8"/>
<path d="M50.45 363.25h2.7v2.7h-2.7zM56.19 363.24h2.7v2.7h-2.7zM61.93 363.22h2.7v2.7h-2.7zM67.67 363.2h2.7v2.7h-2.7zM73.41 363.17h2.7v2.7h-2.7zM79.15 363.14h2.7v2.7h-2.7zM84.89 363.11h2.7v2.7h-2.7zM90.63 363.07h2.7v2.7h-2.7zM96.37 363.03h2.7v2.7h-2.7zM102.11 362.99h2.7v2.7h-2.7zM107.85 362.94h2.7v2.7h-2.7zM113.59 362.89h2.7v2.7h-2.7zM119.33 362.85h2.7v2.7h-2.7zM125.07 362.79h2.7v2.7h-2.7zM130.81 362.74h2.7v2.7h-2.7zM136.55 362.68h2.7v2.7h-2.7zM142.29 362.63h2.7v2.7h-2.7zM148.03 362.57h2.7v2.7h-2.7zM153.77 362.51h2.7v2.7h-2.7zM159.51 362.44h2.7v2.7h-2.7zM165.25 362.38h2.7v2.7h-2.7zM170.99 362.31h2.7v2.7h-2.7zM176.73 362.25h2.7v2.7h-2.7zM182.47 362.18h2.7v2.7h-2.7zM188.21 362.11h2.7v2.7h-2.7zM193.95 362.03h2.7v2.7h-2.7zM199.69 361.96h2.7v2.7h-2.7zM205.43 361.88h2.7v2.7h-2.7zM211.17 361.81h2.7v2.7h-2.7zM216.91 361.73h2.7v2.7h-2.7zM222.65 361.65h2.7v2.7h-2.7z" fill="none" stroke="#888" stroke-width="0.9"/>
<path d="M51.8 361.1L54.2 365.7H49.4zM57.54 361.08L59.94 365.68H55.14zM63.28 361.03L65.68 365.63H60.88zM69.02 360.97L71.42 365.57H66.62zM74.76 360.91L77.16 365.51H72.36zM80.5 360.83L82.9 365.43H78.1zM86.24 360.74L88.64 365.34H83.84zM91.98 360.65L94.38 365.25H89.58zM97.72 360.55L100.12 365.15H95.32zM103.46 360.44L105.86 365.04H101.06zM109.2 360.33L111.6 364.93H106.8zM114.94 360.21L117.34 364.81H112.54zM120.68 360.09L123.08 364.69H118.28zM126.42 359.96L128.82 364.56H124.02zM132.16 359.82L134.56 364.42H129.76zM137.9 359.69L140.3 364.29H135.5zM143.64 359.54L146.04 364.14H141.24zM149.38 359.39L151.78 363.99H146.98zM155.12 359.24L157.52 363.84H152.72zM160.86 359.08L163.26 363.68H158.46zM166.6 358.92L169 363.52H164.2zM172.34 358.76L174.74 363.36H169.94zM178.08 358.59L180.48 363.19H175.68zM183.82 358.41L186.22 363.01H181.42zM189.56 358.24L191.96 362.84H187.16zM195.3 358.06L197.7 362.66H192.9zM201.04 357.87L203.44 362.47H198.64zM206.78 357.68L209.18 362.28H204.38zM212.52 357.49L214.92 362.09H210.12zM218.26 357.3L220.66 361.9H215.86zM224 357.1L226.4 361.7H221.6z" fill="#777" stroke="#111" stroke-width="1.25"/>
<path d="M49.75 364.8a2.05 2.05 0 1 0 4.1 0a2.05 2.05 0 1 0 -4.1 0M55.49 359.2a2.05 2.05 0 1 0 4.1 0a2.05 2.05 0 1 0 -4.1 0M61.23 353.3a2.05 2.05 0 1 0 4.1 0a2.05 2.05 0 1 0 -4.1 0M66.97 346.7a2.05 2.05 0 1 0 4.1 0a2.05 2.05 0 1 0 -4.1 0M72.71 340.2a2.05 2.05 0 1 0 4.1 0a2.05 2.05 0 1 0 -4.1 0M78.45 333.1a2.05 2.05 0 1 0 4.1 0a2.05 2.05 0 1 0 -4.1 0M84.19 328.1a2.05 2.05 0 1 0 4.1 0a2.05 2.05 0 1 0 -4.1 0M89.93 323.56a2.05 2.05 0 1 0 4.1 0a2.05 2.05 0 1 0 -4.1 0M95.67 319.45a2.05 2.05 0 1 0 4.1 0a2.05 2.05 0 1 0 -4.1 0M101.41 315.72a2.05 2.05 0 1 0 4.1 0a2.05 2.05 0 1 0 -4.1 0M107.15 312.34a2.05 2.05 0 1 0 4.1 0a2.05 2.05 0 1 0 -4.1 0M112.89 309.27a2.05 2.05 0 1 0 4.1 0a2.05 2.05 0 1 0 -4.1 0M118.63 306.49a2.05 2.05 0 1 0 4.1 0a2.05 2.05 0 1 0 -4.1 0M124.37 303.97a2.05 2.05 0 1 0 4.1 0a2.05 2.05 0 1 0 -4.1 0M130.11 301.69a2.05 2.05 0 1 0 4.1 0a2.05 2.05 0 1 0 -4.1 0M135.85 299.62a2.05 2.05 0 1 0 4.1 0a2.05 2.05 0 1 0 -4.1 0M141.59 297.64a2.05 2.05 0 1 0 4.1 0a2.05 2.05 0 1 0 -4.1 0M147.33 295.84a2.05 2.05 0 1 0 4.1 0a2.05 2.05 0 1 0 -4.1 0M153.07 294.19a2.05 2.05 0 1 0 4.1 0a2.05 2.05 0 1 0 -4.1 0M158.81 292.59a2.05 2.05 0 1 0 4.1 0a2.05 2.05 0 1 0 -4.1 0M164.55 291.13a2.05 2.05 0 1 0 4.1 0a2.05 2.05 0 1 0 -4.1 0M170.29 289.77a2.05 2.05 0 1 0 4.1 0a2.05 2.05 0 1 0 -4.1 0M176.03 288.53a2.05 2.05 0 1 0 4.1 0a2.05 2.05 0 1 0 -4.1 0M181.77 287.39a2.05 2.05 0 1 0 4.1 0a2.05 2.05 0 1 0 -4.1 0M187.51 286.33a2.05 2.05 0 1 0 4.1 0a2.05 2.05 0 1 0 -4.1 0M193.25 285.35a2.05 2.05 0 1 0 4.1 0a2.05 2.05 0 1 0 -4.1 0M198.99 284.55a2.05 2.05 0 1 0 4.1 0a2.05 2.05 0 1 0 -4.1 0M204.73 283.81a2.05 2.05 0 1 0 4.1 0a2.05 2.05 0 1 0 -4.1 0M210.47 283.13a2.05 2.05 0 1 0 4.1 0a2.05 2.05 0 1 0 -4.1 0M216.21 282.5a2.05 2.05 0 1 0 4.1 0a2.05 2.05 0 1 0 -4.1 0M221.95 281.93a2.05 2.05 0 1 0 4.1 0a2.05 2.05 0 1 0 -4.1 0" fill="none" stroke="#000" stroke-width="0.9"/>
<path d="M57.54 357.7V360.7M55.64 357.7h3.8M55.64 360.7h3.8M63.28 351.8V354.8M61.38 351.8h3.8M61.38 354.8h3.8M69.02 343.5V349.9M67.12 343.5h3.8M67.12 349.9h3.8M74.76 337V343.4M72.86 337h3.8M72.86 343.4h3.8M80.5 329.9V336.3M78.6 329.9h3.8M78.6 336.3h3.8M86.24 324.9V331.3M84.34 324.9h3.8M84.34 331.3h3.8M91.98 320.36V326.76M90.08 320.36h3.8M90.08 326.76h3.8M97.72 316.25V322.65M95.82 316.25h3.8M95.82 322.65h3.8M103.46 312.52V318.92M101.56 312.52h3.8M101.56 318.92h3.8M109.2 309.14V315.54M107.3 309.14h3.8M107.3 315.54h3.8M114.94 306.07V312.47M113.04 306.07h3.8M113.04 312.47h3.8M120.68 303.29V309.69M118.78 303.29h3.8M118.78 309.69h3.8M126.42 300.77V307.17M124.52 300.77h3.8M124.52 307.17h3.8M132.16 298.49V304.89M130.26 298.49h3.8M130.26 304.89h3.8M137.9 296.42V302.82M136 296.42h3.8M136 302.82h3.8M143.64 294.44V300.84M141.74 294.44h3.8M141.74 300.84h3.8M149.38 292.64V299.04M147.48 292.64h3.8M147.48 299.04h3.8M155.12 290.99V297.39M153.22 290.99h3.8M153.22 297.39h3.8M160.86 289.39V295.79M158.96 289.39h3.8M158.96 295.79h3.8M166.6 287.93V294.33M164.7 287.93h3.8M164.7 294.33h3.8M172.34 286.77V292.77M170.44 286.77h3.8M170.44 292.77h3.8M178.08 285.73V291.33M176.18 285.73h3.8M176.18 291.33h3.8M183.82 284.79V289.99M181.92 284.79h3.8M181.92 289.99h3.8M189.56 283.93V288.73M187.66 283.93h3.8M187.66 288.73h3.8M195.3 283.15V287.55M193.4 283.15h3.8M193.4 287.55h3.8M201.04 282.55V286.55M199.14 282.55h3.8M199.14 286.55h3.8M206.78 281.81V285.81M204.88 281.81h3.8M204.88 285.81h3.8M212.52 281.13V285.13M210.62 281.13h3.8M210.62 285.13h3.8M218.26 280.5V284.5M216.36 280.5h3.8M216.36 284.5h3.8M224 279.93V283.93M222.1 279.93h3.8M222.1 283.93h3.8" fill="none" stroke="#000" stroke-width="0.8"/>
<path d="M57.54 357.2V360.2M55.64 357.2h3.8M55.64 360.2h3.8M63.28 350.8V353.8M61.38 350.8h3.8M61.38 353.8h3.8M69.02 342.5V348.9M67.12 342.5h3.8M67.12 348.9h3.8M74.76 336V342.4M72.86 336h3.8M72.86 342.4h3.8M80.5 328.9V335.3M78.6 328.9h3.8M78.6 335.3h3.8M86.24 323.9V330.3M84.34 323.9h3.8M84.34 330.3h3.8M91.98 319.36V325.76M90.08 319.36h3.8M90.08 325.76h3.8M97.72 315.25V321.65M95.82 315.25h3.8M95.82 321.65h3.8M103.46 311.52V317.92M101.56 311.52h3.8M101.56 317.92h3.8M109.2 308.14V314.54M107.3 308.14h3.8M107.3 314.54h3.8M114.94 305.07V311.47M113.04 305.07h3.8M113.04 311.47h3.8M120.68 302.29V308.69M118.78 302.29h3.8M118.78 308.69h3.8M126.42 299.77V306.17M124.52 299.77h3.8M124.52 306.17h3.8M132.16 297.49V303.89M130.26 297.49h3.8M130.26 303.89h3.8M137.9 295.42V301.82M136 295.42h3.8M136 301.82h3.8M143.64 293.49V299.89M141.74 293.49h3.8M141.74 299.89h3.8M149.38 291.74V298.14M147.48 291.74h3.8M147.48 298.14h3.8M155.12 290.14V296.54M153.22 290.14h3.8M153.22 296.54h3.8M160.86 288.59V294.99M158.96 288.59h3.8M158.96 294.99h3.8M166.6 287.18V293.58M164.7 287.18h3.8M164.7 293.58h3.8M172.34 286.07V292.07M170.44 286.07h3.8M170.44 292.07h3.8M178.08 285.08V290.68M176.18 285.08h3.8M176.18 290.68h3.8M183.82 284.19V289.39M181.92 284.19h3.8M181.92 289.39h3.8M189.56 283.38V288.18M187.66 283.38h3.8M187.66 288.18h3.8M195.3 282.65V287.05M193.4 282.65h3.8M193.4 287.05h3.8M201.04 282.05V286.05M199.14 282.05h3.8M199.14 286.05h3.8M206.78 281.31V285.31M204.88 281.31h3.8M204.88 285.31h3.8M212.52 280.63V284.63M210.62 280.63h3.8M210.62 284.63h3.8M218.26 280V284M216.36 280h3.8M216.36 284h3.8M224 279.43V283.43M222.1 279.43h3.8M222.1 283.43h3.8" fill="none" stroke="#000" stroke-width="0.8"/>
<path d="M49.3 364.8a2.5 2.5 0 1 0 5 0a2.5 2.5 0 1 0 -5 0M55.04 358.7a2.5 2.5 0 1 0 5 0a2.5 2.5 0 1 0 -5 0M60.78 352.3a2.5 2.5 0 1 0 5 0a2.5 2.5 0 1 0 -5 0M66.52 345.7a2.5 2.5 0 1 0 5 0a2.5 2.5 0 1 0 -5 0M72.26 339.2a2.5 2.5 0 1 0 5 0a2.5 2.5 0 1 0 -5 0M78 332.1a2.5 2.5 0 1 0 5 0a2.5 2.5 0 1 0 -5 0M83.74 327.1a2.5 2.5 0 1 0 5 0a2.5 2.5 0 1 0 -5 0M89.48 322.56a2.5 2.5 0 1 0 5 0a2.5 2.5 0 1 0 -5 0M95.22 318.45a2.5 2.5 0 1 0 5 0a2.5 2.5 0 1 0 -5 0M100.96 314.72a2.5 2.5 0 1 0 5 0a2.5 2.5 0 1 0 -5 0M106.7 311.34a2.5 2.5 0 1 0 5 0a2.5 2.5 0 1 0 -5 0M112.44 308.27a2.5 2.5 0 1 0 5 0a2.5 2.5 0 1 0 -5 0M118.18 305.49a2.5 2.5 0 1 0 5 0a2.5 2.5 0 1 0 -5 0M123.92 302.97a2.5 2.5 0 1 0 5 0a2.5 2.5 0 1 0 -5 0M129.66 300.69a2.5 2.5 0 1 0 5 0a2.5 2.5 0 1 0 -5 0M135.4 298.62a2.5 2.5 0 1 0 5 0a2.5 2.5 0 1 0 -5 0M141.14 296.69a2.5 2.5 0 1 0 5 0a2.5 2.5 0 1 0 -5 0M146.88 294.94a2.5 2.5 0 1 0 5 0a2.5 2.5 0 1 0 -5 0M152.62 293.34a2.5 2.5 0 1 0 5 0a2.5 2.5 0 1 0 -5 0M158.36 291.79a2.5 2.5 0 1 0 5 0a2.5 2.5 0 1 0 -5 0M164.1 290.38a2.5 2.5 0 1 0 5 0a2.5 2.5 0 1 0 -5 0M169.84 289.07a2.5 2.5 0 1 0 5 0a2.5 2.5 0 1 0 -5 0M175.58 287.88a2.5 2.5 0 1 0 5 0a2.5 2.5 0 1 0 -5 0M181.32 286.79a2.5 2.5 0 1 0 5 0a2.5 2.5 0 1 0 -5 0M187.06 285.78a2.5 2.5 0 1 0 5 0a2.5 2.5 0 1 0 -5 0M192.8 284.85a2.5 2.5 0 1 0 5 0a2.5 2.5 0 1 0 -5 0M198.54 284.05a2.5 2.5 0 1 0 5 0a2.5 2.5 0 1 0 -5 0M204.28 283.31a2.5 2.5 0 1 0 5 0a2.5 2.5 0 1 0 -5 0M210.02 282.63a2.5 2.5 0 1 0 5 0a2.5 2.5 0 1 0 -5 0M215.76 282a2.5 2.5 0 1 0 5 0a2.5 2.5 0 1 0 -5 0M221.5 281.43a2.5 2.5 0 1 0 5 0a2.5 2.5 0 1 0 -5 0" fill="#000"/>
<path d="M49.75 362.75h4.1v4.1h-4.1zM55.49 355.4h4.1v4.1h-4.1zM61.23 347.75h4.1v4.1h-4.1zM66.97 341.15h4.1v4.1h-4.1zM72.71 334.65h4.1v4.1h-4.1zM78.45 327.55h4.1v4.1h-4.1zM84.19 322.55h4.1v4.1h-4.1zM89.93 318.01h4.1v4.1h-4.1zM95.67 313.9h4.1v4.1h-4.1zM101.41 310.17h4.1v4.1h-4.1zM107.15 306.79h4.1v4.1h-4.1zM112.89 303.72h4.1v4.1h-4.1zM118.63 300.94h4.1v4.1h-4.1zM124.37 298.42h4.1v4.1h-4.1zM130.11 296.14h4.1v4.1h-4.1zM135.85 294.07h4.1v4.1h-4.1zM141.59 292.27h4.1v4.1h-4.1zM147.33 290.64h4.1v4.1h-4.1zM153.07 289.17h4.1v4.1h-4.1zM158.81 287.74h4.1v4.1h-4.1zM164.55 286.45h4.1v4.1h-4.1zM170.29 285.27h4.1v4.1h-4.1zM176.03 284.21h4.1v4.1h-4.1zM181.77 283.24h4.1v4.1h-4.1zM187.51 282.35h4.1v4.1h-4.1zM193.25 281.55h4.1v4.1h-4.1zM198.99 280.75h4.1v4.1h-4.1zM204.73 280.01h4.1v4.1h-4.1zM210.47 279.33h4.1v4.1h-4.1zM216.21 278.7h4.1v4.1h-4.1zM221.95 278.13h4.1v4.1h-4.1z" fill="none" stroke="#000" stroke-width="0.9"/>
<path d="M57.54 355.95V358.95M55.64 355.95h3.8M55.64 358.95h3.8M63.28 348.3V351.3M61.38 348.3h3.8M61.38 351.3h3.8M69.02 340.2V346.2M67.12 340.2h3.8M67.12 346.2h3.8M74.76 333.7V339.7M72.86 333.7h3.8M72.86 339.7h3.8M80.5 326.6V332.6M78.6 326.6h3.8M78.6 332.6h3.8M86.24 321.6V327.6M84.34 321.6h3.8M84.34 327.6h3.8M91.98 317.06V323.06M90.08 317.06h3.8M90.08 323.06h3.8M97.72 312.95V318.95M95.82 312.95h3.8M95.82 318.95h3.8M103.46 309.22V315.22M101.56 309.22h3.8M101.56 315.22h3.8M109.2 305.84V311.84M107.3 305.84h3.8M107.3 311.84h3.8M114.94 302.77V308.77M113.04 302.77h3.8M113.04 308.77h3.8M120.68 299.99V305.99M118.78 299.99h3.8M118.78 305.99h3.8M126.42 297.47V303.47M124.52 297.47h3.8M124.52 303.47h3.8M132.16 295.19V301.19M130.26 295.19h3.8M130.26 301.19h3.8M137.9 293.12V299.12M136 293.12h3.8M136 299.12h3.8M143.64 291.32V297.32M141.74 291.32h3.8M141.74 297.32h3.8M149.38 289.69V295.69M147.48 289.69h3.8M147.48 295.69h3.8M155.12 288.22V294.22M153.22 288.22h3.8M153.22 294.22h3.8M160.86 286.79V292.79M158.96 286.79h3.8M158.96 292.79h3.8M166.6 285.5V291.5M164.7 285.5h3.8M164.7 291.5h3.8M172.34 284.49V290.16M170.44 284.49h3.8M170.44 290.16h3.8M178.08 283.59V288.92M176.18 283.59h3.8M176.18 288.92h3.8M183.82 282.79V287.79M181.92 282.79h3.8M181.92 287.79h3.8M189.56 282.07V286.74M187.66 282.07h3.8M187.66 286.74h3.8M195.3 281.43V285.77M193.4 281.43h3.8M193.4 285.77h3.8M201.04 280.8V284.8M199.14 280.8h3.8M199.14 284.8h3.8M206.78 280.06V284.06M204.88 280.06h3.8M204.88 284.06h3.8M212.52 279.38V283.38M210.62 279.38h3.8M210.62 283.38h3.8M218.26 278.75V282.75M216.36 278.75h3.8M216.36 282.75h3.8M224 278.18V282.18M222.1 278.18h3.8M222.1 282.18h3.8" fill="none" stroke="#000" stroke-width="0.8"/>
<path d="M57.54 356.45V359.45M55.64 356.45h3.8M55.64 359.45h3.8M63.28 349.3V352.3M61.38 349.3h3.8M61.38 352.3h3.8M69.02 341.2V347.2M67.12 341.2h3.8M67.12 347.2h3.8M74.76 334.7V340.7M72.86 334.7h3.8M72.86 340.7h3.8M80.5 327.6V333.6M78.6 327.6h3.8M78.6 333.6h3.8M86.24 322.6V328.6M84.34 322.6h3.8M84.34 328.6h3.8M91.98 318.06V324.06M90.08 318.06h3.8M90.08 324.06h3.8M97.72 313.95V319.95M95.82 313.95h3.8M95.82 319.95h3.8M103.46 310.22V316.22M101.56 310.22h3.8M101.56 316.22h3.8M109.2 306.84V312.84M107.3 306.84h3.8M107.3 312.84h3.8M114.94 303.77V309.77M113.04 303.77h3.8M113.04 309.77h3.8M120.68 300.99V306.99M118.78 300.99h3.8M118.78 306.99h3.8M126.42 298.47V304.47M124.52 298.47h3.8M124.52 304.47h3.8M132.16 296.19V302.19M130.26 296.19h3.8M130.26 302.19h3.8M137.9 294.12V300.12M136 294.12h3.8M136 300.12h3.8M143.64 292.27V298.27M141.74 292.27h3.8M141.74 298.27h3.8M149.38 290.59V296.59M147.48 290.59h3.8M147.48 296.59h3.8M155.12 289.07V295.07M153.22 289.07h3.8M153.22 295.07h3.8M160.86 287.59V293.59M158.96 287.59h3.8M158.96 293.59h3.8M166.6 286.25V292.25M164.7 286.25h3.8M164.7 292.25h3.8M172.34 285.19V290.86M170.44 285.19h3.8M170.44 290.86h3.8M178.08 284.24V289.57M176.18 284.24h3.8M176.18 289.57h3.8M183.82 283.39V288.39M181.92 283.39h3.8M181.92 288.39h3.8M189.56 282.62V287.29M187.66 282.62h3.8M187.66 287.29h3.8M195.3 281.93V286.27M193.4 281.93h3.8M193.4 286.27h3.8M201.04 281.3V285.3M199.14 281.3h3.8M199.14 285.3h3.8M206.78 280.56V284.56M204.88 280.56h3.8M204.88 284.56h3.8M212.52 279.88V283.88M210.62 279.88h3.8M210.62 283.88h3.8M218.26 279.25V283.25M216.36 279.25h3.8M216.36 283.25h3.8M224 278.68V282.68M222.1 278.68h3.8M222.1 282.68h3.8" fill="none" stroke="#000" stroke-width="0.8"/>
<path d="M49.2 362.2h5.2v5.2h-5.2zM54.94 355.35h5.2v5.2h-5.2zM60.68 348.2h5.2v5.2h-5.2zM66.42 341.6h5.2v5.2h-5.2zM72.16 335.1h5.2v5.2h-5.2zM77.9 328h5.2v5.2h-5.2zM83.64 323h5.2v5.2h-5.2zM89.38 318.46h5.2v5.2h-5.2zM95.12 314.35h5.2v5.2h-5.2zM100.86 310.62h5.2v5.2h-5.2zM106.6 307.24h5.2v5.2h-5.2zM112.34 304.17h5.2v5.2h-5.2zM118.08 301.39h5.2v5.2h-5.2zM123.82 298.87h5.2v5.2h-5.2zM129.56 296.59h5.2v5.2h-5.2zM135.3 294.52h5.2v5.2h-5.2zM141.04 292.67h5.2v5.2h-5.2zM146.78 290.99h5.2v5.2h-5.2zM152.52 289.47h5.2v5.2h-5.2zM158.26 287.99h5.2v5.2h-5.2zM164 286.65h5.2v5.2h-5.2zM169.74 285.42h5.2v5.2h-5.2zM175.48 284.31h5.2v5.2h-5.2zM181.22 283.29h5.2v5.2h-5.2zM186.96 282.35h5.2v5.2h-5.2zM192.7 281.5h5.2v5.2h-5.2zM198.44 280.7h5.2v5.2h-5.2zM204.18 279.96h5.2v5.2h-5.2zM209.92 279.28h5.2v5.2h-5.2zM215.66 278.65h5.2v5.2h-5.2zM221.4 278.08h5.2v5.2h-5.2z" fill="#000"/>
<line x1="326.1" y1="12.2" x2="326.1" y2="102" stroke="#9a9a9a" stroke-width="1.1"/>
<line x1="323.9" y1="101.6" x2="326.1" y2="101.6" stroke="#9a9a9a" stroke-width="1"/>
<text x="320.2" y="104" font-size="7.6" text-anchor="end" fill="#1a1a1a" stroke="#1a1a1a" stroke-width="0.25">0</text>
<line x1="323.9" y1="79.3" x2="326.1" y2="79.3" stroke="#9a9a9a" stroke-width="1"/>
<text x="320.2" y="81.7" font-size="7.6" text-anchor="end" fill="#1a1a1a" stroke="#1a1a1a" stroke-width="0.25">0.04</text>
<line x1="323.9" y1="57" x2="326.1" y2="57" stroke="#9a9a9a" stroke-width="1"/>
<text x="320.2" y="59.4" font-size="7.6" text-anchor="end" fill="#1a1a1a" stroke="#1a1a1a" stroke-width="0.25">0.08</text>
<line x1="323.9" y1="34.7" x2="326.1" y2="34.7" stroke="#9a9a9a" stroke-width="1"/>
<text x="320.2" y="37.1" font-size="7.6" text-anchor="end" fill="#1a1a1a" stroke="#1a1a1a" stroke-width="0.25">0.12</text>
<line x1="323.9" y1="12.4" x2="326.1" y2="12.4" stroke="#9a9a9a" stroke-width="1"/>
<text x="320.2" y="14.8" font-size="7.6" text-anchor="end" fill="#1a1a1a" stroke="#1a1a1a" stroke-width="0.25">0.16</text>
<line x1="326.1" y1="102" x2="506.5" y2="102" stroke="#b0b0b0" stroke-width="1.1"/>
<line x1="326" y1="102" x2="326" y2="104.2" stroke="#9a9a9a" stroke-width="1"/>
<text x="326" y="113.2" font-size="7.6" text-anchor="middle" fill="#1a1a1a" stroke="#1a1a1a" stroke-width="0.25">0</text>
<line x1="362" y1="102" x2="362" y2="104.2" stroke="#9a9a9a" stroke-width="1"/>
<text x="362" y="113.2" font-size="7.6" text-anchor="middle" fill="#1a1a1a" stroke="#1a1a1a" stroke-width="0.25">5</text>
<line x1="398" y1="102" x2="398" y2="104.2" stroke="#9a9a9a" stroke-width="1"/>
<text x="398" y="113.2" font-size="7.6" text-anchor="middle" fill="#1a1a1a" stroke="#1a1a1a" stroke-width="0.25">10</text>
<line x1="434" y1="102" x2="434" y2="104.2" stroke="#9a9a9a" stroke-width="1"/>
<text x="434" y="113.2" font-size="7.6" text-anchor="middle" fill="#1a1a1a" stroke="#1a1a1a" stroke-width="0.25">15</text>
<line x1="470" y1="102" x2="470" y2="104.2" stroke="#9a9a9a" stroke-width="1"/>
<text x="470" y="113.2" font-size="7.6" text-anchor="middle" fill="#1a1a1a" stroke="#1a1a1a" stroke-width="0.25">20</text>
<line x1="506" y1="102" x2="506" y2="104.2" stroke="#9a9a9a" stroke-width="1"/>
<text x="506" y="113.2" font-size="7.6" text-anchor="middle" fill="#1a1a1a" stroke="#1a1a1a" stroke-width="0.25">25</text>
<text x="286" y="9.2" font-size="10.5" font-weight="bold" text-anchor="start" fill="#000" stroke="#000" stroke-width="0.1">D</text>
<text x="302.1" y="56.6" font-size="6.9" font-weight="bold" text-anchor="middle" fill="#000" transform="rotate(-90 302.1 56.6)" letter-spacing="0.3" stroke="#000" stroke-width="0.1">abs 296 nm</text>
<text x="415.5" y="124.6" font-size="7.4" font-weight="bold" text-anchor="middle" fill="#000" stroke="#000" stroke-width="0.1">min</text>
<text x="339.8" y="20.6" font-size="7.2" text-anchor="start" fill="#1a1a1a" stroke="#1a1a1a" stroke-width="0.25">ERp5</text>
<polyline points="326,101.4 333.2,101.4 340.4,101.2 347.6,101 354.8,100.7 362,100.4 369.2,100 376.4,99.6 383.6,99.2 390.8,98.8 398,98.4 405.2,98 412.4,97.5 419.6,97 426.8,96.4 434,95.6 441.2,94.8 448.4,94 455.6,93.4 462.8,92.2 470,91 477.2,89.6 484.4,88 491.6,86.6 498.8,85.6 506,84" fill="none" stroke="#000" stroke-width="0.8"/>
<polyline points="326,101.4 333.2,101.3 340.4,101.2 347.6,100.8 354.8,100.2 362,99.4 369.2,98.4 376.4,97.2 383.6,95.6 390.8,93.8 398,92 405.2,90.2 412.4,88 419.6,85.5 426.8,83 434,80 441.2,79 448.4,75.5 455.6,74.2 462.8,73 470,71.5 477.2,69 484.4,67 491.6,64 498.8,62.7 506,61" fill="none" stroke="#000" stroke-width="0.8"/>
<polyline points="326,101.4 333.2,101.3 340.4,101 347.6,100.4 354.8,99.6 362,98.6 369.2,97.4 376.4,96 383.6,94 390.8,91.5 398,89.5 405.2,87 412.4,84 419.6,79 426.8,76 434,74 441.2,71 448.4,68 455.6,63 462.8,60 470,60 477.2,57 484.4,52 491.6,50 498.8,46.5 506,40.4" fill="none" stroke="#000" stroke-width="0.8"/>
<polyline points="326,101.4 333.2,101.2 340.4,100.6 347.6,99.6 354.8,98.5 362,97.2 369.2,95.6 376.4,93.6 383.6,91 390.8,88.5 398,86 405.2,83 412.4,80 419.6,76.5 426.8,73 434,68 441.2,63.5 448.4,58.8 455.6,55 462.8,52 470,47 477.2,43 484.4,40 491.6,37.5 498.8,35 506,30" fill="none" stroke="#000" stroke-width="0.8"/>
<polyline points="326,102.2 333.2,101.8 340.4,100.8 347.6,99.4 354.8,97.8 362,95.5 369.2,93.8 376.4,90.4 383.6,87.1 390.8,83.8 398,81.3 405.2,77 412.4,73.4 419.6,70 426.8,66 434,62.1 441.2,57.4 448.4,51.8 455.6,46.8 462.8,43.8 470,41.8 477.2,37.3 484.4,32.8 491.6,30.8 498.8,26.4 506,23.1" fill="none" stroke="#000" stroke-width="0.8"/>
<polyline points="326,101.4 333.2,101 340.4,100 347.6,98.6 354.8,97 362,94.7 369.2,93 376.4,89.6 383.6,86.3 390.8,83 398,80.5 405.2,76.2 412.4,72.6 419.6,69.2 426.8,65.2 434,61.3 441.2,56.6 448.4,51 455.6,46 462.8,43 470,41 477.2,36.5 484.4,32 491.6,30 498.8,25.6 506,22.3" fill="none" stroke="#000" stroke-width="0.8"/>
<path d="M326 99.05L328.35 103.55H323.65zM333.2 99.05L335.55 103.55H330.85zM340.4 98.85L342.75 103.35H338.05zM347.6 98.65L349.95 103.15H345.25zM354.8 98.35L357.15 102.85H352.45zM362 98.05L364.35 102.55H359.65zM369.2 97.65L371.55 102.15H366.85zM376.4 97.25L378.75 101.75H374.05zM383.6 96.85L385.95 101.35H381.25zM390.8 96.45L393.15 100.95H388.45zM398 96.05L400.35 100.55H395.65zM405.2 95.65L407.55 100.15H402.85zM412.4 95.15L414.75 99.65H410.05zM419.6 94.65L421.95 99.15H417.25zM426.8 94.05L429.15 98.55H424.45zM434 93.25L436.35 97.75H431.65zM441.2 92.45L443.55 96.95H438.85zM448.4 91.65L450.75 96.15H446.05zM455.6 91.05L457.95 95.55H453.25zM462.8 89.85L465.15 94.35H460.45zM470 88.65L472.35 93.15H467.65zM477.2 87.25L479.55 91.75H474.85zM484.4 85.65L486.75 90.15H482.05zM491.6 84.25L493.95 88.75H489.25zM498.8 83.25L501.15 87.75H496.45zM506 81.65L508.35 86.15H503.65z" fill="none" stroke="#000" stroke-width="0.9"/>
<path d="M347.6 98.2V103.8M345.7 98.2h3.8M345.7 103.8h3.8M354.8 97.9V103.5M352.9 97.9h3.8M352.9 103.5h3.8M362 97.6V103.2M360.1 97.6h3.8M360.1 103.2h3.8M369.2 97.2V102.8M367.3 97.2h3.8M367.3 102.8h3.8M376.4 96.8V102.4M374.5 96.8h3.8M374.5 102.4h3.8M383.6 96.4V102M381.7 96.4h3.8M381.7 102h3.8M390.8 96V101.6M388.9 96h3.8M388.9 101.6h3.8M398 95.6V101.2M396.1 95.6h3.8M396.1 101.2h3.8M405.2 95.2V100.8M403.3 95.2h3.8M403.3 100.8h3.8M412.4 94.7V100.3M410.5 94.7h3.8M410.5 100.3h3.8M419.6 94.2V99.8M417.7 94.2h3.8M417.7 99.8h3.8M426.8 93.6V99.2M424.9 93.6h3.8M424.9 99.2h3.8M434 92.8V98.4M432.1 92.8h3.8M432.1 98.4h3.8M441.2 92V97.6M439.3 92h3.8M439.3 97.6h3.8M448.4 91.2V96.8M446.5 91.2h3.8M446.5 96.8h3.8M455.6 90.6V96.2M453.7 90.6h3.8M453.7 96.2h3.8M462.8 89.4V95M460.9 89.4h3.8M460.9 95h3.8M470 88.2V93.8M468.1 88.2h3.8M468.1 93.8h3.8M477.2 86.8V92.4M475.3 86.8h3.8M475.3 92.4h3.8M484.4 85.2V90.8M482.5 85.2h3.8M482.5 90.8h3.8M491.6 83.8V89.4M489.7 83.8h3.8M489.7 89.4h3.8M498.8 82.8V88.4M496.9 82.8h3.8M496.9 88.4h3.8M506 81.2V86.8M504.1 81.2h3.8M504.1 86.8h3.8" fill="none" stroke="#000" stroke-width="0.8"/>
<path d="M323.9 101.4a2.1 2.1 0 1 0 4.2 0a2.1 2.1 0 1 0 -4.2 0M331.1 101.3a2.1 2.1 0 1 0 4.2 0a2.1 2.1 0 1 0 -4.2 0M338.3 101.2a2.1 2.1 0 1 0 4.2 0a2.1 2.1 0 1 0 -4.2 0M345.5 100.8a2.1 2.1 0 1 0 4.2 0a2.1 2.1 0 1 0 -4.2 0M352.7 100.2a2.1 2.1 0 1 0 4.2 0a2.1 2.1 0 1 0 -4.2 0M359.9 99.4a2.1 2.1 0 1 0 4.2 0a2.1 2.1 0 1 0 -4.2 0M367.1 98.4a2.1 2.1 0 1 0 4.2 0a2.1 2.1 0 1 0 -4.2 0M374.3 97.2a2.1 2.1 0 1 0 4.2 0a2.1 2.1 0 1 0 -4.2 0M381.5 95.6a2.1 2.1 0 1 0 4.2 0a2.1 2.1 0 1 0 -4.2 0M388.7 93.8a2.1 2.1 0 1 0 4.2 0a2.1 2.1 0 1 0 -4.2 0M395.9 92a2.1 2.1 0 1 0 4.2 0a2.1 2.1 0 1 0 -4.2 0M403.1 90.2a2.1 2.1 0 1 0 4.2 0a2.1 2.1 0 1 0 -4.2 0M410.3 88a2.1 2.1 0 1 0 4.2 0a2.1 2.1 0 1 0 -4.2 0M417.5 85.5a2.1 2.1 0 1 0 4.2 0a2.1 2.1 0 1 0 -4.2 0M424.7 83a2.1 2.1 0 1 0 4.2 0a2.1 2.1 0 1 0 -4.2 0M431.9 80a2.1 2.1 0 1 0 4.2 0a2.1 2.1 0 1 0 -4.2 0M439.1 79a2.1 2.1 0 1 0 4.2 0a2.1 2.1 0 1 0 -4.2 0M446.3 75.5a2.1 2.1 0 1 0 4.2 0a2.1 2.1 0 1 0 -4.2 0M453.5 74.2a2.1 2.1 0 1 0 4.2 0a2.1 2.1 0 1 0 -4.2 0M460.7 73a2.1 2.1 0 1 0 4.2 0a2.1 2.1 0 1 0 -4.2 0M467.9 71.5a2.1 2.1 0 1 0 4.2 0a2.1 2.1 0 1 0 -4.2 0M475.1 69a2.1 2.1 0 1 0 4.2 0a2.1 2.1 0 1 0 -4.2 0M482.3 67a2.1 2.1 0 1 0 4.2 0a2.1 2.1 0 1 0 -4.2 0M489.5 64a2.1 2.1 0 1 0 4.2 0a2.1 2.1 0 1 0 -4.2 0M496.7 62.7a2.1 2.1 0 1 0 4.2 0a2.1 2.1 0 1 0 -4.2 0M503.9 61a2.1 2.1 0 1 0 4.2 0a2.1 2.1 0 1 0 -4.2 0" fill="none" stroke="#000" stroke-width="0.9"/>
<path d="M347.6 98V103.6M345.7 98h3.8M345.7 103.6h3.8M354.8 97.4V103M352.9 97.4h3.8M352.9 103h3.8M362 96.6V102.2M360.1 96.6h3.8M360.1 102.2h3.8M369.2 95.6V101.2M367.3 95.6h3.8M367.3 101.2h3.8M376.4 94.4V100M374.5 94.4h3.8M374.5 100h3.8M383.6 92.8V98.4M381.7 92.8h3.8M381.7 98.4h3.8M390.8 91V96.6M388.9 91h3.8M388.9 96.6h3.8M398 89.2V94.8M396.1 89.2h3.8M396.1 94.8h3.8M405.2 87.4V93M403.3 87.4h3.8M403.3 93h3.8M412.4 85.2V90.8M410.5 85.2h3.8M410.5 90.8h3.8M419.6 82.7V88.3M417.7 82.7h3.8M417.7 88.3h3.8M426.8 80.2V85.8M424.9 80.2h3.8M424.9 85.8h3.8M434 77.2V82.8M432.1 77.2h3.8M432.1 82.8h3.8M441.2 76.2V81.8M439.3 76.2h3.8M439.3 81.8h3.8M448.4 72.7V78.3M446.5 72.7h3.8M446.5 78.3h3.8M455.6 71.4V77M453.7 71.4h3.8M453.7 77h3.8M462.8 70.2V75.8M460.9 70.2h3.8M460.9 75.8h3.8M470 68.7V74.3M468.1 68.7h3.8M468.1 74.3h3.8M477.2 66.2V71.8M475.3 66.2h3.8M475.3 71.8h3.8M484.4 64.2V69.8M482.5 64.2h3.8M482.5 69.8h3.8M491.6 61.2V66.8M489.7 61.2h3.8M489.7 66.8h3.8M498.8 59.9V65.5M496.9 59.9h3.8M496.9 65.5h3.8M506 58.2V63.8M504.1 58.2h3.8M504.1 63.8h3.8" fill="none" stroke="#000" stroke-width="0.8"/>
<path d="M347.6 97.8V103M345.7 97.8h3.8M345.7 103h3.8M354.8 97V102.2M352.9 97h3.8M352.9 102.2h3.8M362 96V101.2M360.1 96h3.8M360.1 101.2h3.8M369.2 94.8V100M367.3 94.8h3.8M367.3 100h3.8M376.4 93.4V98.6M374.5 93.4h3.8M374.5 98.6h3.8M383.6 91.4V96.6M381.7 91.4h3.8M381.7 96.6h3.8M390.8 88.9V94.1M388.9 88.9h3.8M388.9 94.1h3.8M398 86.9V92.1M396.1 86.9h3.8M396.1 92.1h3.8M405.2 84.4V89.6M403.3 84.4h3.8M403.3 89.6h3.8M412.4 81.4V86.6M410.5 81.4h3.8M410.5 86.6h3.8M419.6 76.4V81.6M417.7 76.4h3.8M417.7 81.6h3.8M426.8 73.4V78.6M424.9 73.4h3.8M424.9 78.6h3.8M434 71.4V76.6M432.1 71.4h3.8M432.1 76.6h3.8M441.2 68.4V73.6M439.3 68.4h3.8M439.3 73.6h3.8M448.4 65.4V70.6M446.5 65.4h3.8M446.5 70.6h3.8M455.6 60.4V65.6M453.7 60.4h3.8M453.7 65.6h3.8M462.8 57.4V62.6M460.9 57.4h3.8M460.9 62.6h3.8M470 57.4V62.6M468.1 57.4h3.8M468.1 62.6h3.8M477.2 54.4V59.6M475.3 54.4h3.8M475.3 59.6h3.8M484.4 49.4V54.6M482.5 49.4h3.8M482.5 54.6h3.8M491.6 47.4V52.6M489.7 47.4h3.8M489.7 52.6h3.8M498.8 43.9V49.1M496.9 43.9h3.8M496.9 49.1h3.8M506 37.8V43M504.1 37.8h3.8M504.1 43h3.8" fill="none" stroke="#000" stroke-width="0.8"/>
<path d="M323.45 101.4a2.55 2.55 0 1 0 5.1 0a2.55 2.55 0 1 0 -5.1 0M330.65 101.3a2.55 2.55 0 1 0 5.1 0a2.55 2.55 0 1 0 -5.1 0M337.85 101a2.55 2.55 0 1 0 5.1 0a2.55 2.55 0 1 0 -5.1 0M345.05 100.4a2.55 2.55 0 1 0 5.1 0a2.55 2.55 0 1 0 -5.1 0M352.25 99.6a2.55 2.55 0 1 0 5.1 0a2.55 2.55 0 1 0 -5.1 0M359.45 98.6a2.55 2.55 0 1 0 5.1 0a2.55 2.55 0 1 0 -5.1 0M366.65 97.4a2.55 2.55 0 1 0 5.1 0a2.55 2.55 0 1 0 -5.1 0M373.85 96a2.55 2.55 0 1 0 5.1 0a2.55 2.55 0 1 0 -5.1 0M381.05 94a2.55 2.55 0 1 0 5.1 0a2.55 2.55 0 1 0 -5.1 0M388.25 91.5a2.55 2.55 0 1 0 5.1 0a2.55 2.55 0 1 0 -5.1 0M395.45 89.5a2.55 2.55 0 1 0 5.1 0a2.55 2.55 0 1 0 -5.1 0M402.65 87a2.55 2.55 0 1 0 5.1 0a2.55 2.55 0 1 0 -5.1 0M409.85 84a2.55 2.55 0 1 0 5.1 0a2.55 2.55 0 1 0 -5.1 0M417.05 79a2.55 2.55 0 1 0 5.1 0a2.55 2.55 0 1 0 -5.1 0M424.25 76a2.55 2.55 0 1 0 5.1 0a2.55 2.55 0 1 0 -5.1 0M431.45 74a2.55 2.55 0 1 0 5.1 0a2.55 2.55 0 1 0 -5.1 0M438.65 71a2.55 2.55 0 1 0 5.1 0a2.55 2.55 0 1 0 -5.1 0M445.85 68a2.55 2.55 0 1 0 5.1 0a2.55 2.55 0 1 0 -5.1 0M453.05 63a2.55 2.55 0 1 0 5.1 0a2.55 2.55 0 1 0 -5.1 0M460.25 60a2.55 2.55 0 1 0 5.1 0a2.55 2.55 0 1 0 -5.1 0M467.45 60a2.55 2.55 0 1 0 5.1 0a2.55 2.55 0 1 0 -5.1 0M474.65 57a2.55 2.55 0 1 0 5.1 0a2.55 2.55 0 1 0 -5.1 0M481.85 52a2.55 2.55 0 1 0 5.1 0a2.55 2.55 0 1 0 -5.1 0M489.05 50a2.55 2.55 0 1 0 5.1 0a2.55 2.55 0 1 0 -5.1 0M496.25 46.5a2.55 2.55 0 1 0 5.1 0a2.55 2.55 0 1 0 -5.1 0M503.45 40.4a2.55 2.55 0 1 0 5.1 0a2.55 2.55 0 1 0 -5.1 0" fill="#000"/>
<path d="M347.6 97V102.2M345.7 97h3.8M345.7 102.2h3.8M354.8 94V101.1M352.9 94h3.8M352.9 101.1h3.8M362 88.7V100.2M360.1 88.7h3.8M360.1 100.2h3.8M369.2 87.1V98.6M367.3 87.1h3.8M367.3 98.6h3.8M376.4 88.6V96.6M374.5 88.6h3.8M374.5 96.6h3.8M383.6 88.4V93.6M381.7 88.4h3.8M381.7 93.6h3.8M390.8 85.9V91.1M388.9 85.9h3.8M388.9 91.1h3.8M398 83.4V88.6M396.1 83.4h3.8M396.1 88.6h3.8M405.2 80.4V85.6M403.3 80.4h3.8M403.3 85.6h3.8M412.4 77.4V82.6M410.5 77.4h3.8M410.5 82.6h3.8M419.6 73.9V79.1M417.7 73.9h3.8M417.7 79.1h3.8M426.8 70.4V75.6M424.9 70.4h3.8M424.9 75.6h3.8M434 65.4V70.6M432.1 65.4h3.8M432.1 70.6h3.8M441.2 60.9V66.1M439.3 60.9h3.8M439.3 66.1h3.8M448.4 56.2V61.4M446.5 56.2h3.8M446.5 61.4h3.8M455.6 52.4V57.6M453.7 52.4h3.8M453.7 57.6h3.8M462.8 49.4V54.6M460.9 49.4h3.8M460.9 54.6h3.8M470 44.4V49.6M468.1 44.4h3.8M468.1 49.6h3.8M477.2 40.4V45.6M475.3 40.4h3.8M475.3 45.6h3.8M484.4 37.4V42.6M482.5 37.4h3.8M482.5 42.6h3.8M491.6 34.9V40.1M489.7 34.9h3.8M489.7 40.1h3.8M498.8 32.4V37.6M496.9 32.4h3.8M496.9 37.6h3.8M506 27.4V32.6M504.1 27.4h3.8M504.1 32.6h3.8" fill="none" stroke="#000" stroke-width="0.8"/>
<path d="M326 98.55L328.75 103.95H323.25zM333.2 98.35L335.95 103.75H330.45zM340.4 97.75L343.15 103.15H337.65zM347.6 96.75L350.35 102.15H344.85zM354.8 95.65L357.55 101.05H352.05zM362 94.35L364.75 99.75H359.25zM369.2 92.75L371.95 98.15H366.45zM376.4 90.75L379.15 96.15H373.65zM383.6 88.15L386.35 93.55H380.85zM390.8 85.65L393.55 91.05H388.05zM398 83.15L400.75 88.55H395.25zM405.2 80.15L407.95 85.55H402.45zM412.4 77.15L415.15 82.55H409.65zM419.6 73.65L422.35 79.05H416.85zM426.8 70.15L429.55 75.55H424.05zM434 65.15L436.75 70.55H431.25zM441.2 60.65L443.95 66.05H438.45zM448.4 55.95L451.15 61.35H445.65zM455.6 52.15L458.35 57.55H452.85zM462.8 49.15L465.55 54.55H460.05zM470 44.15L472.75 49.55H467.25zM477.2 40.15L479.95 45.55H474.45zM484.4 37.15L487.15 42.55H481.65zM491.6 34.65L494.35 40.05H488.85zM498.8 32.15L501.55 37.55H496.05zM506 27.15L508.75 32.55H503.25z" fill="#000"/>
<path d="M323.9 100.1h4.2v4.2h-4.2zM331.1 99.7h4.2v4.2h-4.2zM338.3 98.7h4.2v4.2h-4.2zM345.5 97.3h4.2v4.2h-4.2zM352.7 95.7h4.2v4.2h-4.2zM359.9 93.4h4.2v4.2h-4.2zM367.1 91.7h4.2v4.2h-4.2zM374.3 88.3h4.2v4.2h-4.2zM381.5 85h4.2v4.2h-4.2zM388.7 81.7h4.2v4.2h-4.2zM395.9 79.2h4.2v4.2h-4.2zM403.1 74.9h4.2v4.2h-4.2zM410.3 71.3h4.2v4.2h-4.2zM417.5 67.9h4.2v4.2h-4.2zM424.7 63.9h4.2v4.2h-4.2zM431.9 60h4.2v4.2h-4.2zM439.1 55.3h4.2v4.2h-4.2zM446.3 49.7h4.2v4.2h-4.2zM453.5 44.7h4.2v4.2h-4.2zM460.7 41.7h4.2v4.2h-4.2zM467.9 39.7h4.2v4.2h-4.2zM475.1 35.2h4.2v4.2h-4.2zM482.3 30.7h4.2v4.2h-4.2zM489.5 28.7h4.2v4.2h-4.2zM496.7 24.3h4.2v4.2h-4.2zM503.9 21h4.2v4.2h-4.2z" fill="none" stroke="#000" stroke-width="0.9"/>
<path d="M347.6 96.9V101.9M345.7 96.9h3.8M345.7 101.9h3.8M354.8 95.3V100.3M352.9 95.3h3.8M352.9 100.3h3.8M362 93V98M360.1 93h3.8M360.1 98h3.8M369.2 91.3V96.3M367.3 91.3h3.8M367.3 96.3h3.8M376.4 87.9V92.9M374.5 87.9h3.8M374.5 92.9h3.8M383.6 84.6V89.6M381.7 84.6h3.8M381.7 89.6h3.8M390.8 81.3V86.3M388.9 81.3h3.8M388.9 86.3h3.8M398 78.8V83.8M396.1 78.8h3.8M396.1 83.8h3.8M405.2 74.5V79.5M403.3 74.5h3.8M403.3 79.5h3.8M412.4 70.9V75.9M410.5 70.9h3.8M410.5 75.9h3.8M419.6 67.5V72.5M417.7 67.5h3.8M417.7 72.5h3.8M426.8 63.5V68.5M424.9 63.5h3.8M424.9 68.5h3.8M434 59.6V64.6M432.1 59.6h3.8M432.1 64.6h3.8M441.2 54.9V59.9M439.3 54.9h3.8M439.3 59.9h3.8M448.4 49.3V54.3M446.5 49.3h3.8M446.5 54.3h3.8M455.6 44.3V49.3M453.7 44.3h3.8M453.7 49.3h3.8M462.8 41.3V46.3M460.9 41.3h3.8M460.9 46.3h3.8M470 39.3V44.3M468.1 39.3h3.8M468.1 44.3h3.8M477.2 34.8V39.8M475.3 34.8h3.8M475.3 39.8h3.8M484.4 30.3V35.3M482.5 30.3h3.8M482.5 35.3h3.8M491.6 28.3V33.3M489.7 28.3h3.8M489.7 33.3h3.8M498.8 23.9V28.9M496.9 23.9h3.8M496.9 28.9h3.8M506 20.6V25.6M504.1 20.6h3.8M504.1 25.6h3.8" fill="none" stroke="#000" stroke-width="0.8"/>
<path d="M347.6 96.1V101.1M345.7 96.1h3.8M345.7 101.1h3.8M354.8 94.5V99.5M352.9 94.5h3.8M352.9 99.5h3.8M362 92.2V97.2M360.1 92.2h3.8M360.1 97.2h3.8M369.2 90.5V95.5M367.3 90.5h3.8M367.3 95.5h3.8M376.4 87.1V92.1M374.5 87.1h3.8M374.5 92.1h3.8M383.6 83.8V88.8M381.7 83.8h3.8M381.7 88.8h3.8M390.8 80.5V85.5M388.9 80.5h3.8M388.9 85.5h3.8M398 78V83M396.1 78h3.8M396.1 83h3.8M405.2 73.7V78.7M403.3 73.7h3.8M403.3 78.7h3.8M412.4 70.1V75.1M410.5 70.1h3.8M410.5 75.1h3.8M419.6 66.7V71.7M417.7 66.7h3.8M417.7 71.7h3.8M426.8 62.7V67.7M424.9 62.7h3.8M424.9 67.7h3.8M434 58.8V63.8M432.1 58.8h3.8M432.1 63.8h3.8M441.2 54.1V59.1M439.3 54.1h3.8M439.3 59.1h3.8M448.4 48.5V53.5M446.5 48.5h3.8M446.5 53.5h3.8M455.6 43.5V48.5M453.7 43.5h3.8M453.7 48.5h3.8M462.8 40.5V45.5M460.9 40.5h3.8M460.9 45.5h3.8M470 38.5V43.5M468.1 38.5h3.8M468.1 43.5h3.8M477.2 34V39M475.3 34h3.8M475.3 39h3.8M484.4 29.5V34.5M482.5 29.5h3.8M482.5 34.5h3.8M491.6 27.5V32.5M489.7 27.5h3.8M489.7 32.5h3.8M498.8 23.1V28.1M496.9 23.1h3.8M496.9 28.1h3.8M506 19.8V24.8M504.1 19.8h3.8M504.1 24.8h3.8" fill="none" stroke="#000" stroke-width="0.8"/>
<path d="M323.45 98.85h5.1v5.1h-5.1zM330.65 98.45h5.1v5.1h-5.1zM337.85 97.45h5.1v5.1h-5.1zM345.05 96.05h5.1v5.1h-5.1zM352.25 94.45h5.1v5.1h-5.1zM359.45 92.15h5.1v5.1h-5.1zM366.65 90.45h5.1v5.1h-5.1zM373.85 87.05h5.1v5.1h-5.1zM381.05 83.75h5.1v5.1h-5.1zM388.25 80.45h5.1v5.1h-5.1zM395.45 77.95h5.1v5.1h-5.1zM402.65 73.65h5.1v5.1h-5.1zM409.85 70.05h5.1v5.1h-5.1zM417.05 66.65h5.1v5.1h-5.1zM424.25 62.65h5.1v5.1h-5.1zM431.45 58.75h5.1v5.1h-5.1zM438.65 54.05h5.1v5.1h-5.1zM445.85 48.45h5.1v5.1h-5.1zM453.05 43.45h5.1v5.1h-5.1zM460.25 40.45h5.1v5.1h-5.1zM467.45 38.45h5.1v5.1h-5.1zM474.65 33.95h5.1v5.1h-5.1zM481.85 29.45h5.1v5.1h-5.1zM489.05 27.45h5.1v5.1h-5.1zM496.25 23.05h5.1v5.1h-5.1zM503.45 19.75h5.1v5.1h-5.1z" fill="#000"/>
<line x1="330.5" y1="138.7" x2="330.5" y2="236.3" stroke="#9a9a9a" stroke-width="1.1"/>
<line x1="328.3" y1="236.3" x2="330.5" y2="236.3" stroke="#9a9a9a" stroke-width="1"/>
<text x="324" y="239" font-size="7.6" text-anchor="end" fill="#1a1a1a" stroke="#1a1a1a" stroke-width="0.25">0</text>
<line x1="328.3" y1="220.1" x2="330.5" y2="220.1" stroke="#9a9a9a" stroke-width="1"/>
<text x="324" y="222.8" font-size="7.6" text-anchor="end" fill="#1a1a1a" stroke="#1a1a1a" stroke-width="0.25">0.04</text>
<line x1="328.3" y1="203.9" x2="330.5" y2="203.9" stroke="#9a9a9a" stroke-width="1"/>
<text x="324" y="206.6" font-size="7.6" text-anchor="end" fill="#1a1a1a" stroke="#1a1a1a" stroke-width="0.25">0.08</text>
<line x1="328.3" y1="187.7" x2="330.5" y2="187.7" stroke="#9a9a9a" stroke-width="1"/>
<text x="324" y="190.4" font-size="7.6" text-anchor="end" fill="#1a1a1a" stroke="#1a1a1a" stroke-width="0.25">0.12</text>
<line x1="328.3" y1="171.5" x2="330.5" y2="171.5" stroke="#9a9a9a" stroke-width="1"/>
<text x="324" y="174.2" font-size="7.6" text-anchor="end" fill="#1a1a1a" stroke="#1a1a1a" stroke-width="0.25">0.16</text>
<line x1="328.3" y1="155.3" x2="330.5" y2="155.3" stroke="#9a9a9a" stroke-width="1"/>
<text x="324" y="158" font-size="7.6" text-anchor="end" fill="#1a1a1a" stroke="#1a1a1a" stroke-width="0.25">0.2</text>
<line x1="328.3" y1="139.1" x2="330.5" y2="139.1" stroke="#9a9a9a" stroke-width="1"/>
<text x="324" y="141.8" font-size="7.6" text-anchor="end" fill="#1a1a1a" stroke="#1a1a1a" stroke-width="0.25">0.24</text>
<line x1="330.5" y1="236.3" x2="514.4" y2="236.3" stroke="#9a9a9a" stroke-width="1.1"/>
<line x1="331" y1="236.3" x2="331" y2="238.5" stroke="#9a9a9a" stroke-width="1"/>
<text x="331" y="247.6" font-size="7.6" text-anchor="middle" fill="#1a1a1a" stroke="#1a1a1a" stroke-width="0.25">0</text>
<line x1="367.8" y1="236.3" x2="367.8" y2="238.5" stroke="#9a9a9a" stroke-width="1"/>
<text x="367.8" y="247.6" font-size="7.6" text-anchor="middle" fill="#1a1a1a" stroke="#1a1a1a" stroke-width="0.25">5</text>
<line x1="404.6" y1="236.3" x2="404.6" y2="238.5" stroke="#9a9a9a" stroke-width="1"/>
<text x="404.6" y="247.6" font-size="7.6" text-anchor="middle" fill="#1a1a1a" stroke="#1a1a1a" stroke-width="0.25">10</text>
<line x1="441.4" y1="236.3" x2="441.4" y2="238.5" stroke="#9a9a9a" stroke-width="1"/>
<text x="441.4" y="247.6" font-size="7.6" text-anchor="middle" fill="#1a1a1a" stroke="#1a1a1a" stroke-width="0.25">15</text>
<line x1="478.2" y1="236.3" x2="478.2" y2="238.5" stroke="#9a9a9a" stroke-width="1"/>
<text x="478.2" y="247.6" font-size="7.6" text-anchor="middle" fill="#1a1a1a" stroke="#1a1a1a" stroke-width="0.25">20</text>
<line x1="515" y1="236.3" x2="515" y2="238.5" stroke="#9a9a9a" stroke-width="1"/>
<text x="515" y="247.6" font-size="7.6" text-anchor="middle" fill="#1a1a1a" stroke="#1a1a1a" stroke-width="0.25">25</text>
<text x="285.6" y="144.3" font-size="10.5" font-weight="bold" text-anchor="start" fill="#000" stroke="#000" stroke-width="0.1">E</text>
<text x="306" y="188" font-size="6.9" font-weight="bold" text-anchor="middle" fill="#000" transform="rotate(-90 306 188)" letter-spacing="0.3" stroke="#000" stroke-width="0.1">abs 296 nm</text>
<text x="422.5" y="259.2" font-size="7.4" font-weight="bold" text-anchor="middle" fill="#000" stroke="#000" stroke-width="0.1">min</text>
<text x="345.8" y="153.2" font-size="7.1" text-anchor="start" fill="#1a1a1a" stroke="#1a1a1a" stroke-width="0.25">PDI</text>
<polyline points="331,236.4 338.36,236.4 345.72,236.4 353.08,236.3 360.44,236.2 367.8,236.1 375.16,236 382.52,235.8 389.88,235.6 397.24,235.2 404.6,234.4 411.96,233.6 419.32,233 426.68,232 434.04,231 441.4,230 448.76,229.6 456.12,229 463.48,229 470.84,228.4 478.2,228.2 485.56,225.6 492.92,222.4 500.28,221 507.64,219 515,217" fill="none" stroke="#000" stroke-width="0.8"/>
<polyline points="331,236.7 338.36,236.7 345.72,236.7 353.08,236.6 360.44,236.5 367.8,236.4 375.16,236.3 382.52,236.1 389.88,235.9 397.24,235.5 404.6,234.7 411.96,233.9 419.32,233.3 426.68,232.3 434.04,231.3 441.4,230.3 448.76,229.9 456.12,229.3 463.48,229.3 470.84,228.7 478.2,228.5 485.56,225.9 492.92,222.7 500.28,221.3 507.64,219.3 515,217.3" fill="none" stroke="#000" stroke-width="0.8"/>
<polyline points="331,236 338.36,233.6 345.72,231 353.08,228.6 360.44,230.3 367.8,225 375.16,215.7 382.52,210 389.88,204.7 397.24,204.3 404.6,199.7 411.96,194 419.32,190.1 426.68,186.5 434.04,182.5 441.4,178.1 448.76,174.5 456.12,167.7 463.48,167.5 470.84,165.5 478.2,164.1 485.56,163.3 492.92,154.7 500.28,156.5 507.64,154.1 515,152.1" fill="none" stroke="#000" stroke-width="0.8"/>
<polyline points="331,236 338.36,233.6 345.72,231 353.08,228.6 360.44,226.6 367.8,221.3 375.16,212 382.52,206.3 389.88,201 397.24,200.6 404.6,196 411.96,190.3 419.32,186.4 426.68,182.8 434.04,178.8 441.4,174.4 448.76,170.8 456.12,164 463.48,163.8 470.84,161.8 478.2,160.4 485.56,159.6 492.92,151 500.28,152.8 507.64,150.4 515,148.4" fill="none" stroke="#000" stroke-width="0.8"/>
<polyline points="331,236 338.36,233.6 345.72,231 353.08,228.6 360.44,225.8 367.8,220.5 375.16,211.2 382.52,205.5 389.88,200.2 397.24,199.8 404.6,195.2 411.96,189.5 419.32,185.6 426.68,182 434.04,178 441.4,173.6 448.76,170 456.12,163.2 463.48,163 470.84,161 478.2,159.6 485.56,158.8 492.92,150.2 500.28,152 507.64,149.6 515,147.6" fill="none" stroke="#000" stroke-width="0.8"/>
<path d="M331 234.2L333.2 238.4H328.8zM338.36 234.2L340.56 238.4H336.16zM345.72 234.2L347.92 238.4H343.52zM353.08 234.1L355.28 238.3H350.88zM360.44 234L362.64 238.2H358.24zM367.8 233.9L370 238.1H365.6zM375.16 233.8L377.36 238H372.96zM382.52 233.6L384.72 237.8H380.32zM389.88 233.4L392.08 237.6H387.68zM397.24 233L399.44 237.2H395.04zM404.6 232.2L406.8 236.4H402.4zM411.96 231.4L414.16 235.6H409.76zM419.32 230.8L421.52 235H417.12zM426.68 229.8L428.88 234H424.48zM434.04 228.8L436.24 233H431.84zM441.4 227.8L443.6 232H439.2zM448.76 227.4L450.96 231.6H446.56zM456.12 226.8L458.32 231H453.92zM463.48 226.8L465.68 231H461.28zM470.84 226.2L473.04 230.4H468.64zM478.2 226L480.4 230.2H476zM485.56 223.4L487.76 227.6H483.36zM492.92 220.2L495.12 224.4H490.72zM500.28 218.8L502.48 223H498.08zM507.64 216.8L509.84 221H505.44zM515 214.8L517.2 219H512.8z" fill="none" stroke="#222" stroke-width="0.9"/>
<path d="M375.16 233.2V238.8M373.26 233.2h3.8M373.26 238.8h3.8M382.52 233V238.6M380.62 233h3.8M380.62 238.6h3.8M389.88 232.8V238.4M387.98 232.8h3.8M387.98 238.4h3.8M397.24 232.4V238M395.34 232.4h3.8M395.34 238h3.8M404.6 231.6V237.2M402.7 231.6h3.8M402.7 237.2h3.8M411.96 230.8V236.4M410.06 230.8h3.8M410.06 236.4h3.8M419.32 230.2V235.8M417.42 230.2h3.8M417.42 235.8h3.8M426.68 229.2V234.8M424.78 229.2h3.8M424.78 234.8h3.8M434.04 228.2V233.8M432.14 228.2h3.8M432.14 233.8h3.8M441.4 227.2V232.8M439.5 227.2h3.8M439.5 232.8h3.8M448.76 226.8V232.4M446.86 226.8h3.8M446.86 232.4h3.8M456.12 226.2V231.8M454.22 226.2h3.8M454.22 231.8h3.8M463.48 226.2V231.8M461.58 226.2h3.8M461.58 231.8h3.8M470.84 225.6V231.2M468.94 225.6h3.8M468.94 231.2h3.8M478.2 225.4V231M476.3 225.4h3.8M476.3 231h3.8M485.56 222.8V228.4M483.66 222.8h3.8M483.66 228.4h3.8M492.92 219.6V225.2M491.02 219.6h3.8M491.02 225.2h3.8M500.28 218.2V223.8M498.38 218.2h3.8M498.38 223.8h3.8M507.64 216.2V221.8M505.74 216.2h3.8M505.74 221.8h3.8M515 214.2V219.8M513.1 214.2h3.8M513.1 219.8h3.8" fill="none" stroke="#000" stroke-width="0.8"/>
<path d="M329.45 236.7a1.55 1.55 0 1 0 3.1 0a1.55 1.55 0 1 0 -3.1 0M336.81 236.7a1.55 1.55 0 1 0 3.1 0a1.55 1.55 0 1 0 -3.1 0M344.17 236.7a1.55 1.55 0 1 0 3.1 0a1.55 1.55 0 1 0 -3.1 0M351.53 236.6a1.55 1.55 0 1 0 3.1 0a1.55 1.55 0 1 0 -3.1 0M358.89 236.5a1.55 1.55 0 1 0 3.1 0a1.55 1.55 0 1 0 -3.1 0M366.25 236.4a1.55 1.55 0 1 0 3.1 0a1.55 1.55 0 1 0 -3.1 0M373.61 236.3a1.55 1.55 0 1 0 3.1 0a1.55 1.55 0 1 0 -3.1 0M380.97 236.1a1.55 1.55 0 1 0 3.1 0a1.55 1.55 0 1 0 -3.1 0M388.33 235.9a1.55 1.55 0 1 0 3.1 0a1.55 1.55 0 1 0 -3.1 0M395.69 235.5a1.55 1.55 0 1 0 3.1 0a1.55 1.55 0 1 0 -3.1 0M403.05 234.7a1.55 1.55 0 1 0 3.1 0a1.55 1.55 0 1 0 -3.1 0M410.41 233.9a1.55 1.55 0 1 0 3.1 0a1.55 1.55 0 1 0 -3.1 0M417.77 233.3a1.55 1.55 0 1 0 3.1 0a1.55 1.55 0 1 0 -3.1 0M425.13 232.3a1.55 1.55 0 1 0 3.1 0a1.55 1.55 0 1 0 -3.1 0M432.49 231.3a1.55 1.55 0 1 0 3.1 0a1.55 1.55 0 1 0 -3.1 0M439.85 230.3a1.55 1.55 0 1 0 3.1 0a1.55 1.55 0 1 0 -3.1 0M447.21 229.9a1.55 1.55 0 1 0 3.1 0a1.55 1.55 0 1 0 -3.1 0M454.57 229.3a1.55 1.55 0 1 0 3.1 0a1.55 1.55 0 1 0 -3.1 0M461.93 229.3a1.55 1.55 0 1 0 3.1 0a1.55 1.55 0 1 0 -3.1 0M469.29 228.7a1.55 1.55 0 1 0 3.1 0a1.55 1.55 0 1 0 -3.1 0M476.65 228.5a1.55 1.55 0 1 0 3.1 0a1.55 1.55 0 1 0 -3.1 0M484.01 225.9a1.55 1.55 0 1 0 3.1 0a1.55 1.55 0 1 0 -3.1 0M491.37 222.7a1.55 1.55 0 1 0 3.1 0a1.55 1.55 0 1 0 -3.1 0M498.73 221.3a1.55 1.55 0 1 0 3.1 0a1.55 1.55 0 1 0 -3.1 0M506.09 219.3a1.55 1.55 0 1 0 3.1 0a1.55 1.55 0 1 0 -3.1 0M513.45 217.3a1.55 1.55 0 1 0 3.1 0a1.55 1.55 0 1 0 -3.1 0" fill="none" stroke="#555" stroke-width="0.9"/>
<path d="M329.05 236a1.95 1.95 0 1 0 3.9 0a1.95 1.95 0 1 0 -3.9 0M336.41 233.6a1.95 1.95 0 1 0 3.9 0a1.95 1.95 0 1 0 -3.9 0M343.77 231a1.95 1.95 0 1 0 3.9 0a1.95 1.95 0 1 0 -3.9 0M351.13 228.6a1.95 1.95 0 1 0 3.9 0a1.95 1.95 0 1 0 -3.9 0M358.49 230.3a1.95 1.95 0 1 0 3.9 0a1.95 1.95 0 1 0 -3.9 0M365.85 225a1.95 1.95 0 1 0 3.9 0a1.95 1.95 0 1 0 -3.9 0M373.21 215.7a1.95 1.95 0 1 0 3.9 0a1.95 1.95 0 1 0 -3.9 0M380.57 210a1.95 1.95 0 1 0 3.9 0a1.95 1.95 0 1 0 -3.9 0M387.93 204.7a1.95 1.95 0 1 0 3.9 0a1.95 1.95 0 1 0 -3.9 0M395.29 204.3a1.95 1.95 0 1 0 3.9 0a1.95 1.95 0 1 0 -3.9 0M402.65 199.7a1.95 1.95 0 1 0 3.9 0a1.95 1.95 0 1 0 -3.9 0M410.01 194a1.95 1.95 0 1 0 3.9 0a1.95 1.95 0 1 0 -3.9 0M417.37 190.1a1.95 1.95 0 1 0 3.9 0a1.95 1.95 0 1 0 -3.9 0M424.73 186.5a1.95 1.95 0 1 0 3.9 0a1.95 1.95 0 1 0 -3.9 0M432.09 182.5a1.95 1.95 0 1 0 3.9 0a1.95 1.95 0 1 0 -3.9 0M439.45 178.1a1.95 1.95 0 1 0 3.9 0a1.95 1.95 0 1 0 -3.9 0M446.81 174.5a1.95 1.95 0 1 0 3.9 0a1.95 1.95 0 1 0 -3.9 0M454.17 167.7a1.95 1.95 0 1 0 3.9 0a1.95 1.95 0 1 0 -3.9 0M461.53 167.5a1.95 1.95 0 1 0 3.9 0a1.95 1.95 0 1 0 -3.9 0M468.89 165.5a1.95 1.95 0 1 0 3.9 0a1.95 1.95 0 1 0 -3.9 0M476.25 164.1a1.95 1.95 0 1 0 3.9 0a1.95 1.95 0 1 0 -3.9 0M483.61 163.3a1.95 1.95 0 1 0 3.9 0a1.95 1.95 0 1 0 -3.9 0M490.97 154.7a1.95 1.95 0 1 0 3.9 0a1.95 1.95 0 1 0 -3.9 0M498.33 156.5a1.95 1.95 0 1 0 3.9 0a1.95 1.95 0 1 0 -3.9 0M505.69 154.1a1.95 1.95 0 1 0 3.9 0a1.95 1.95 0 1 0 -3.9 0M513.05 152.1a1.95 1.95 0 1 0 3.9 0a1.95 1.95 0 1 0 -3.9 0" fill="none" stroke="#333" stroke-width="0.9"/>
<path d="M345.72 228V234M343.82 228h3.8M343.82 234h3.8M353.08 225.6V231.6M351.18 225.6h3.8M351.18 231.6h3.8M360.44 227.3V233.3M358.54 227.3h3.8M358.54 233.3h3.8M367.8 222V228M365.9 222h3.8M365.9 228h3.8M375.16 212.7V218.7M373.26 212.7h3.8M373.26 218.7h3.8M382.52 207V213M380.62 207h3.8M380.62 213h3.8M389.88 201.7V207.7M387.98 201.7h3.8M387.98 207.7h3.8M397.24 201.3V207.3M395.34 201.3h3.8M395.34 207.3h3.8M404.6 196.7V202.7M402.7 196.7h3.8M402.7 202.7h3.8M411.96 191V197M410.06 191h3.8M410.06 197h3.8M419.32 187.1V193.1M417.42 187.1h3.8M417.42 193.1h3.8M426.68 183.5V189.5M424.78 183.5h3.8M424.78 189.5h3.8M434.04 179.5V185.5M432.14 179.5h3.8M432.14 185.5h3.8M441.4 175.1V181.1M439.5 175.1h3.8M439.5 181.1h3.8M448.76 171.5V177.5M446.86 171.5h3.8M446.86 177.5h3.8M456.12 164.7V170.7M454.22 164.7h3.8M454.22 170.7h3.8M463.48 164.5V170.5M461.58 164.5h3.8M461.58 170.5h3.8M470.84 162.5V168.5M468.94 162.5h3.8M468.94 168.5h3.8M478.2 161.1V167.1M476.3 161.1h3.8M476.3 167.1h3.8M485.56 160.3V166.3M483.66 160.3h3.8M483.66 166.3h3.8M492.92 151.7V157.7M491.02 151.7h3.8M491.02 157.7h3.8M500.28 153.5V159.5M498.38 153.5h3.8M498.38 159.5h3.8M507.64 151.1V157.1M505.74 151.1h3.8M505.74 157.1h3.8M515 149.1V155.1M513.1 149.1h3.8M513.1 155.1h3.8" fill="none" stroke="#000" stroke-width="0.8"/>
<path d="M328.95 233.95h4.1v4.1h-4.1zM336.31 231.55h4.1v4.1h-4.1zM343.67 228.95h4.1v4.1h-4.1zM351.03 226.55h4.1v4.1h-4.1zM358.39 224.55h4.1v4.1h-4.1zM365.75 219.25h4.1v4.1h-4.1zM373.11 209.95h4.1v4.1h-4.1zM380.47 204.25h4.1v4.1h-4.1zM387.83 198.95h4.1v4.1h-4.1zM395.19 198.55h4.1v4.1h-4.1zM402.55 193.95h4.1v4.1h-4.1zM409.91 188.25h4.1v4.1h-4.1zM417.27 184.35h4.1v4.1h-4.1zM424.63 180.75h4.1v4.1h-4.1zM431.99 176.75h4.1v4.1h-4.1zM439.35 172.35h4.1v4.1h-4.1zM446.71 168.75h4.1v4.1h-4.1zM454.07 161.95h4.1v4.1h-4.1zM461.43 161.75h4.1v4.1h-4.1zM468.79 159.75h4.1v4.1h-4.1zM476.15 158.35h4.1v4.1h-4.1zM483.51 157.55h4.1v4.1h-4.1zM490.87 148.95h4.1v4.1h-4.1zM498.23 150.75h4.1v4.1h-4.1zM505.59 148.35h4.1v4.1h-4.1zM512.95 146.35h4.1v4.1h-4.1z" fill="none" stroke="#000" stroke-width="0.9"/>
<path d="M345.72 228V234M343.82 228h3.8M343.82 234h3.8M353.08 225.6V231.6M351.18 225.6h3.8M351.18 231.6h3.8M360.44 223.6V229.6M358.54 223.6h3.8M358.54 229.6h3.8M367.8 218.3V224.3M365.9 218.3h3.8M365.9 224.3h3.8M375.16 209V215M373.26 209h3.8M373.26 215h3.8M382.52 203.3V209.3M380.62 203.3h3.8M380.62 209.3h3.8M389.88 198V204M387.98 198h3.8M387.98 204h3.8M397.24 197.6V203.6M395.34 197.6h3.8M395.34 203.6h3.8M404.6 193V199M402.7 193h3.8M402.7 199h3.8M411.96 187.3V193.3M410.06 187.3h3.8M410.06 193.3h3.8M419.32 183.4V189.4M417.42 183.4h3.8M417.42 189.4h3.8M426.68 179.8V185.8M424.78 179.8h3.8M424.78 185.8h3.8M434.04 175.8V181.8M432.14 175.8h3.8M432.14 181.8h3.8M441.4 171.4V177.4M439.5 171.4h3.8M439.5 177.4h3.8M448.76 167.8V173.8M446.86 167.8h3.8M446.86 173.8h3.8M456.12 161V167M454.22 161h3.8M454.22 167h3.8M463.48 160.8V166.8M461.58 160.8h3.8M461.58 166.8h3.8M470.84 158.8V164.8M468.94 158.8h3.8M468.94 164.8h3.8M478.2 157.4V163.4M476.3 157.4h3.8M476.3 163.4h3.8M485.56 156.6V162.6M483.66 156.6h3.8M483.66 162.6h3.8M492.92 148V154M491.02 148h3.8M491.02 154h3.8M500.28 149.8V155.8M498.38 149.8h3.8M498.38 155.8h3.8M507.64 147.4V153.4M505.74 147.4h3.8M505.74 153.4h3.8M515 145.4V151.4M513.1 145.4h3.8M513.1 151.4h3.8" fill="none" stroke="#000" stroke-width="0.8"/>
<path d="M345.72 226.4V235.6M343.62 226.4h4.2M343.62 235.6h4.2M353.08 224V233.2M350.98 224h4.2M350.98 233.2h4.2M360.44 221.2V230.4M358.34 221.2h4.2M358.34 230.4h4.2M367.8 215.9V225.1M365.7 215.9h4.2M365.7 225.1h4.2M375.16 206.6V215.8M373.06 206.6h4.2M373.06 215.8h4.2M382.52 200.9V210.1M380.42 200.9h4.2M380.42 210.1h4.2M389.88 195.6V204.8M387.78 195.6h4.2M387.78 204.8h4.2M397.24 195.2V204.4M395.14 195.2h4.2M395.14 204.4h4.2M404.6 190.6V199.8M402.5 190.6h4.2M402.5 199.8h4.2M411.96 184.9V194.1M409.86 184.9h4.2M409.86 194.1h4.2M419.32 181V190.2M417.22 181h4.2M417.22 190.2h4.2M426.68 177.4V186.6M424.58 177.4h4.2M424.58 186.6h4.2M434.04 173.4V182.6M431.94 173.4h4.2M431.94 182.6h4.2M441.4 169V178.2M439.3 169h4.2M439.3 178.2h4.2M448.76 165.4V174.6M446.66 165.4h4.2M446.66 174.6h4.2M456.12 158.6V167.8M454.02 158.6h4.2M454.02 167.8h4.2M463.48 158.4V167.6M461.38 158.4h4.2M461.38 167.6h4.2M470.84 156.4V165.6M468.74 156.4h4.2M468.74 165.6h4.2M478.2 155V164.2M476.1 155h4.2M476.1 164.2h4.2M485.56 154.2V163.4M483.46 154.2h4.2M483.46 163.4h4.2M492.92 145.6V154.8M490.82 145.6h4.2M490.82 154.8h4.2M500.28 147.4V156.6M498.18 147.4h4.2M498.18 156.6h4.2M507.64 145V154.2M505.54 145h4.2M505.54 154.2h4.2M515 143V152.2M512.9 143h4.2M512.9 152.2h4.2" fill="none" stroke="#000" stroke-width="0.8"/>
<path d="M328.3 233.3h5.4v5.4h-5.4zM335.66 230.9h5.4v5.4h-5.4zM343.02 228.3h5.4v5.4h-5.4zM350.38 225.9h5.4v5.4h-5.4zM357.74 223.1h5.4v5.4h-5.4zM365.1 217.8h5.4v5.4h-5.4zM372.46 208.5h5.4v5.4h-5.4zM379.82 202.8h5.4v5.4h-5.4zM387.18 197.5h5.4v5.4h-5.4zM394.54 197.1h5.4v5.4h-5.4zM401.9 192.5h5.4v5.4h-5.4zM409.26 186.8h5.4v5.4h-5.4zM416.62 182.9h5.4v5.4h-5.4zM423.98 179.3h5.4v5.4h-5.4zM431.34 175.3h5.4v5.4h-5.4zM438.7 170.9h5.4v5.4h-5.4zM446.06 167.3h5.4v5.4h-5.4zM453.42 160.5h5.4v5.4h-5.4zM460.78 160.3h5.4v5.4h-5.4zM468.14 158.3h5.4v5.4h-5.4zM475.5 156.9h5.4v5.4h-5.4zM482.86 156.1h5.4v5.4h-5.4zM490.22 147.5h5.4v5.4h-5.4zM497.58 149.3h5.4v5.4h-5.4zM504.94 146.9h5.4v5.4h-5.4zM512.3 144.9h5.4v5.4h-5.4z" fill="#000"/>
<line x1="331" y1="269.8" x2="331" y2="366" stroke="#9a9a9a" stroke-width="1.1"/>
<line x1="328.8" y1="366" x2="331" y2="366" stroke="#9a9a9a" stroke-width="1"/>
<text x="324.6" y="367.9" font-size="7.6" text-anchor="end" fill="#1a1a1a" stroke="#1a1a1a" stroke-width="0.25">0.00</text>
<line x1="328.8" y1="342" x2="331" y2="342" stroke="#9a9a9a" stroke-width="1"/>
<text x="324.6" y="343.9" font-size="7.6" text-anchor="end" fill="#1a1a1a" stroke="#1a1a1a" stroke-width="0.25">0.04</text>
<line x1="328.8" y1="318" x2="331" y2="318" stroke="#9a9a9a" stroke-width="1"/>
<text x="324.6" y="319.9" font-size="7.6" text-anchor="end" fill="#1a1a1a" stroke="#1a1a1a" stroke-width="0.25">0.08</text>
<line x1="328.8" y1="294" x2="331" y2="294" stroke="#9a9a9a" stroke-width="1"/>
<text x="324.6" y="295.9" font-size="7.6" text-anchor="end" fill="#1a1a1a" stroke="#1a1a1a" stroke-width="0.25">0.12</text>
<line x1="328.8" y1="270" x2="331" y2="270" stroke="#9a9a9a" stroke-width="1"/>
<text x="324.6" y="271.9" font-size="7.6" text-anchor="end" fill="#1a1a1a" stroke="#1a1a1a" stroke-width="0.25">0.16</text>
<line x1="331" y1="366" x2="513.6" y2="366" stroke="#c4c4c4" stroke-width="0.9"/>
<line x1="331.4" y1="366" x2="331.4" y2="368.2" stroke="#9a9a9a" stroke-width="1"/>
<text x="331.4" y="378" font-size="7.6" text-anchor="middle" fill="#1a1a1a" stroke="#1a1a1a" stroke-width="0.25">0</text>
<line x1="361.6" y1="366" x2="361.6" y2="368.2" stroke="#9a9a9a" stroke-width="1"/>
<text x="361.6" y="378" font-size="7.6" text-anchor="middle" fill="#1a1a1a" stroke="#1a1a1a" stroke-width="0.25">5</text>
<line x1="391.8" y1="366" x2="391.8" y2="368.2" stroke="#9a9a9a" stroke-width="1"/>
<text x="391.8" y="378" font-size="7.6" text-anchor="middle" fill="#1a1a1a" stroke="#1a1a1a" stroke-width="0.25">10</text>
<line x1="422" y1="366" x2="422" y2="368.2" stroke="#9a9a9a" stroke-width="1"/>
<text x="422" y="378" font-size="7.6" text-anchor="middle" fill="#1a1a1a" stroke="#1a1a1a" stroke-width="0.25">15</text>
<line x1="452.2" y1="366" x2="452.2" y2="368.2" stroke="#9a9a9a" stroke-width="1"/>
<text x="452.2" y="378" font-size="7.6" text-anchor="middle" fill="#1a1a1a" stroke="#1a1a1a" stroke-width="0.25">20</text>
<line x1="482.4" y1="366" x2="482.4" y2="368.2" stroke="#9a9a9a" stroke-width="1"/>
<text x="482.4" y="378" font-size="7.6" text-anchor="middle" fill="#1a1a1a" stroke="#1a1a1a" stroke-width="0.25">25</text>
<line x1="512.6" y1="366" x2="512.6" y2="368.2" stroke="#9a9a9a" stroke-width="1"/>
<text x="512.6" y="378" font-size="7.6" text-anchor="middle" fill="#1a1a1a" stroke="#1a1a1a" stroke-width="0.25">30</text>
<text x="285.6" y="275.2" font-size="10.5" font-weight="bold" text-anchor="start" fill="#000" stroke="#000" stroke-width="0.1">F</text>
<text x="306" y="311" font-size="6.9" font-weight="bold" text-anchor="middle" fill="#000" transform="rotate(-90 306 311)" letter-spacing="0.3" stroke="#000" stroke-width="0.1">abs 296 nm</text>
<text x="422.6" y="388.6" font-size="7.4" font-weight="bold" text-anchor="middle" fill="#000" stroke="#000" stroke-width="0.1">min</text>
<text x="343.6" y="284.6" font-size="7.2" text-anchor="start" fill="#1a1a1a" stroke="#1a1a1a" stroke-width="0.25">ERp57</text>
<polyline points="331.4,365.3 343.48,365.2 355.56,365.2 367.64,365.1 379.72,365 391.8,364.8 403.88,363.6 415.96,363.2 428.04,362.3 440.12,361.7 452.2,360.9 464.28,360.9 476.36,360.4 488.44,360 500.52,357.5 512.6,355.5" fill="none" stroke="#000" stroke-width="0.8"/>
<polyline points="331.4,366.8 343.48,364.8 355.56,361.8 367.64,359.4 379.72,356.8 391.8,354.4 403.88,351.3 415.96,348.8 428.04,345.8 440.12,343.6 452.2,341.2 464.28,338 476.36,335.4 488.44,331.6 500.52,328 512.6,325.2" fill="none" stroke="#000" stroke-width="0.8"/>
<polyline points="331.4,366 343.48,364 355.56,361 367.64,358.6 379.72,356 391.8,353.3 403.88,350 415.96,347.3 428.04,344.4 440.12,341.8 452.2,339 464.28,334.6 476.36,331.6 488.44,327.8 500.52,324 512.6,320.5" fill="none" stroke="#000" stroke-width="0.8"/>
<polyline points="331.4,366 343.48,364 355.56,361 367.64,358.6 379.72,356 391.8,353.6 403.88,350.5 415.96,348 428.04,345 440.12,342.8 452.2,340.4 464.28,337.2 476.36,334.6 488.44,330.8 500.52,327.2 512.6,324.4" fill="none" stroke="#000" stroke-width="0.8"/>
<path d="M331.4 362.4L334.3 368H328.5zM343.48 362.3L346.38 367.9H340.58zM355.56 362.3L358.46 367.9H352.66zM367.64 362.2L370.54 367.8H364.74zM379.72 362.1L382.62 367.7H376.82zM391.8 361.9L394.7 367.5H388.9zM403.88 360.7L406.78 366.3H400.98zM415.96 360.3L418.86 365.9H413.06zM428.04 359.4L430.94 365H425.14zM440.12 358.8L443.02 364.4H437.22zM452.2 358L455.1 363.6H449.3zM464.28 358L467.18 363.6H461.38zM476.36 357.5L479.26 363.1H473.46zM488.44 357.1L491.34 362.7H485.54zM500.52 354.6L503.42 360.2H497.62zM512.6 352.6L515.5 358.2H509.7z" fill="none" stroke="#111" stroke-width="1"/>
<path d="M343.48 361.4V368.2M341.58 361.4h3.8M341.58 368.2h3.8M355.56 358.4V365.2M353.66 358.4h3.8M353.66 365.2h3.8M367.64 356V362.8M365.74 356h3.8M365.74 362.8h3.8M379.72 353.4V360.2M377.82 353.4h3.8M377.82 360.2h3.8M391.8 351V357.8M389.9 351h3.8M389.9 357.8h3.8M403.88 347.9V354.7M401.98 347.9h3.8M401.98 354.7h3.8M415.96 345.4V352.2M414.06 345.4h3.8M414.06 352.2h3.8M428.04 342.4V349.2M426.14 342.4h3.8M426.14 349.2h3.8M440.12 340.2V347M438.22 340.2h3.8M438.22 347h3.8M452.2 337.8V344.6M450.3 337.8h3.8M450.3 344.6h3.8M464.28 334.6V341.4M462.38 334.6h3.8M462.38 341.4h3.8M476.36 332V338.8M474.46 332h3.8M474.46 338.8h3.8M488.44 328.2V335M486.54 328.2h3.8M486.54 335h3.8M500.52 324.6V331.4M498.62 324.6h3.8M498.62 331.4h3.8M512.6 321.8V328.6M510.7 321.8h3.8M510.7 328.6h3.8" fill="none" stroke="#000" stroke-width="0.8"/>
<path d="M328.7 366.8a2.7 2.7 0 1 0 5.4 0a2.7 2.7 0 1 0 -5.4 0M340.78 364.8a2.7 2.7 0 1 0 5.4 0a2.7 2.7 0 1 0 -5.4 0M352.86 361.8a2.7 2.7 0 1 0 5.4 0a2.7 2.7 0 1 0 -5.4 0M364.94 359.4a2.7 2.7 0 1 0 5.4 0a2.7 2.7 0 1 0 -5.4 0M377.02 356.8a2.7 2.7 0 1 0 5.4 0a2.7 2.7 0 1 0 -5.4 0M389.1 354.4a2.7 2.7 0 1 0 5.4 0a2.7 2.7 0 1 0 -5.4 0M401.18 351.3a2.7 2.7 0 1 0 5.4 0a2.7 2.7 0 1 0 -5.4 0M413.26 348.8a2.7 2.7 0 1 0 5.4 0a2.7 2.7 0 1 0 -5.4 0M425.34 345.8a2.7 2.7 0 1 0 5.4 0a2.7 2.7 0 1 0 -5.4 0M437.42 343.6a2.7 2.7 0 1 0 5.4 0a2.7 2.7 0 1 0 -5.4 0M449.5 341.2a2.7 2.7 0 1 0 5.4 0a2.7 2.7 0 1 0 -5.4 0M461.58 338a2.7 2.7 0 1 0 5.4 0a2.7 2.7 0 1 0 -5.4 0M473.66 335.4a2.7 2.7 0 1 0 5.4 0a2.7 2.7 0 1 0 -5.4 0M485.74 331.6a2.7 2.7 0 1 0 5.4 0a2.7 2.7 0 1 0 -5.4 0M497.82 328a2.7 2.7 0 1 0 5.4 0a2.7 2.7 0 1 0 -5.4 0M509.9 325.2a2.7 2.7 0 1 0 5.4 0a2.7 2.7 0 1 0 -5.4 0" fill="#000"/>
<path d="M329.25 363.85h4.3v4.3h-4.3zM341.33 361.85h4.3v4.3h-4.3zM353.41 358.85h4.3v4.3h-4.3zM365.49 356.45h4.3v4.3h-4.3zM377.57 353.85h4.3v4.3h-4.3zM389.65 351.15h4.3v4.3h-4.3zM401.73 347.85h4.3v4.3h-4.3zM413.81 345.15h4.3v4.3h-4.3zM425.89 342.25h4.3v4.3h-4.3zM437.97 339.65h4.3v4.3h-4.3zM450.05 336.85h4.3v4.3h-4.3zM462.13 332.45h4.3v4.3h-4.3zM474.21 329.45h4.3v4.3h-4.3zM486.29 325.65h4.3v4.3h-4.3zM498.37 321.85h4.3v4.3h-4.3zM510.45 318.35h4.3v4.3h-4.3z" fill="none" stroke="#000" stroke-width="0.9"/>
<path d="M343.48 361V367M341.58 361h3.8M341.58 367h3.8M355.56 358V364M353.66 358h3.8M353.66 364h3.8M367.64 355.6V361.6M365.74 355.6h3.8M365.74 361.6h3.8M379.72 353V359M377.82 353h3.8M377.82 359h3.8M391.8 350.3V356.3M389.9 350.3h3.8M389.9 356.3h3.8M403.88 347V353M401.98 347h3.8M401.98 353h3.8M415.96 344.3V350.3M414.06 344.3h3.8M414.06 350.3h3.8M428.04 341.4V347.4M426.14 341.4h3.8M426.14 347.4h3.8M440.12 338.8V344.8M438.22 338.8h3.8M438.22 344.8h3.8M452.2 336V342M450.3 336h3.8M450.3 342h3.8M464.28 331.6V337.6M462.38 331.6h3.8M462.38 337.6h3.8M476.36 328.6V334.6M474.46 328.6h3.8M474.46 334.6h3.8M488.44 324.8V330.8M486.54 324.8h3.8M486.54 330.8h3.8M500.52 321V327M498.62 321h3.8M498.62 327h3.8M512.6 317.5V323.5M510.7 317.5h3.8M510.7 323.5h3.8" fill="none" stroke="#000" stroke-width="0.8"/>
<path d="M343.48 360.6V367.4M341.38 360.6h4.2M341.38 367.4h4.2M355.56 357.6V364.4M353.46 357.6h4.2M353.46 364.4h4.2M367.64 355.2V362M365.54 355.2h4.2M365.54 362h4.2M379.72 352.6V359.4M377.62 352.6h4.2M377.62 359.4h4.2M391.8 350.2V357M389.7 350.2h4.2M389.7 357h4.2M403.88 347.1V353.9M401.78 347.1h4.2M401.78 353.9h4.2M415.96 344.6V351.4M413.86 344.6h4.2M413.86 351.4h4.2M428.04 341.6V348.4M425.94 341.6h4.2M425.94 348.4h4.2M440.12 339.4V346.2M438.02 339.4h4.2M438.02 346.2h4.2M452.2 337V343.8M450.1 337h4.2M450.1 343.8h4.2M464.28 333.8V340.6M462.18 333.8h4.2M462.18 340.6h4.2M476.36 331.2V338M474.26 331.2h4.2M474.26 338h4.2M488.44 327.4V334.2M486.34 327.4h4.2M486.34 334.2h4.2M500.52 323.8V330.6M498.42 323.8h4.2M498.42 330.6h4.2M512.6 321V327.8M510.5 321h4.2M510.5 327.8h4.2" fill="none" stroke="#000" stroke-width="0.8"/>
<path d="M328.7 363.3h5.4v5.4h-5.4zM340.78 361.3h5.4v5.4h-5.4zM352.86 358.3h5.4v5.4h-5.4zM364.94 355.9h5.4v5.4h-5.4zM377.02 353.3h5.4v5.4h-5.4zM389.1 350.9h5.4v5.4h-5.4zM401.18 347.8h5.4v5.4h-5.4zM413.26 345.3h5.4v5.4h-5.4zM425.34 342.3h5.4v5.4h-5.4zM437.42 340.1h5.4v5.4h-5.4zM449.5 337.7h5.4v5.4h-5.4zM461.58 334.5h5.4v5.4h-5.4zM473.66 331.9h5.4v5.4h-5.4zM485.74 328.1h5.4v5.4h-5.4zM497.82 324.5h5.4v5.4h-5.4zM509.9 321.7h5.4v5.4h-5.4z" fill="#000"/>
</svg>
</body></html>
